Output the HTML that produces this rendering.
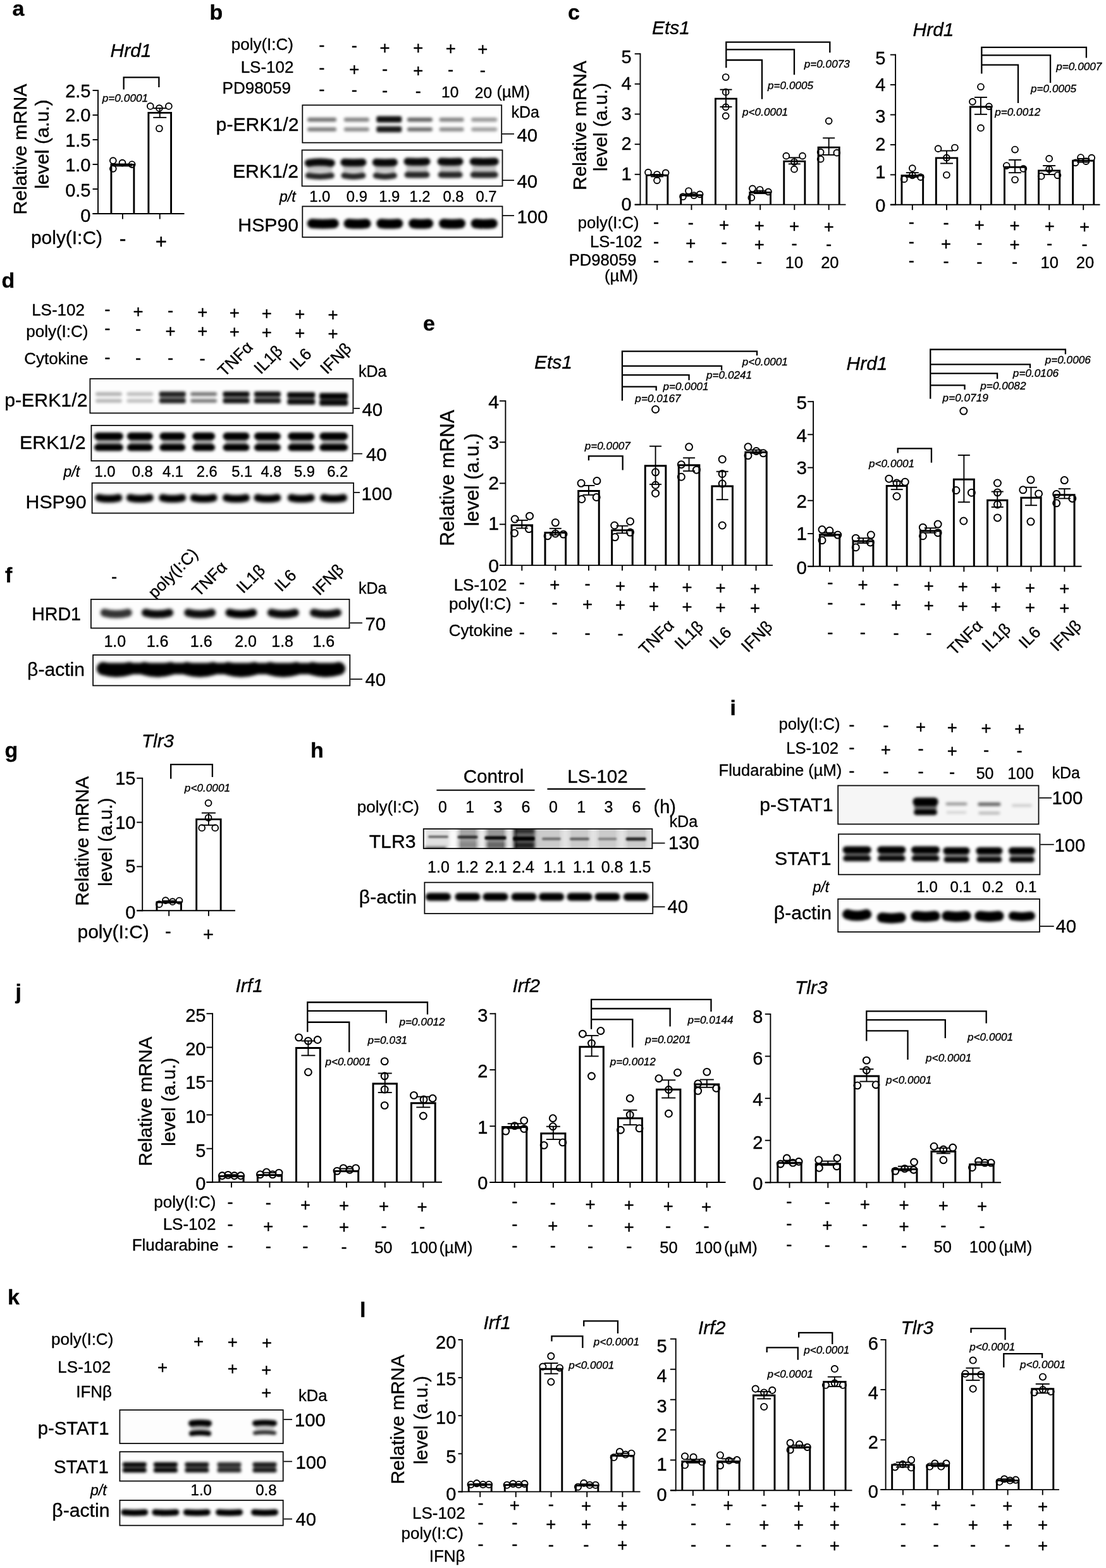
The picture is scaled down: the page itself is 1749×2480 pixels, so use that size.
<!DOCTYPE html>
<html lang="en"><head><meta charset="utf-8"><title>Figure</title>
<style>html,body{margin:0;padding:0;background:#fff}svg{display:block}text{font-family:"Liberation Sans",sans-serif;fill:#000;stroke:#000;stroke-width:0.35px;stroke-linejoin:round}</style>
</head><body>
<svg width="1749" height="2480" viewBox="0 0 1749 2480" stroke="#000" fill="none">
<rect x="0" y="0" width="1749" height="2480" fill="#fff" stroke="none"/>
<defs><clipPath id="c1"><rect x="477.4" y="165.4" width="316.7" height="61.2"/></clipPath><filter id="f1_1" filterUnits="userSpaceOnUse" x="462.4" y="150.4" width="346.7" height="91.2"><feGaussianBlur stdDeviation="2.2"/></filter><clipPath id="c2"><rect x="476.7" y="236.5" width="318.7" height="58.8"/></clipPath><filter id="f2_3" filterUnits="userSpaceOnUse" x="461.7" y="221.5" width="348.7" height="88.8"><feGaussianBlur stdDeviation="2.3"/></filter><clipPath id="c3"><rect x="477.4" y="325.5" width="318" height="50.6"/></clipPath><filter id="f3_5" filterUnits="userSpaceOnUse" x="462.4" y="310.5" width="348" height="80.6"><feGaussianBlur stdDeviation="2.2"/></filter><clipPath id="c4"><rect x="141.5" y="598.2" width="417.8" height="56.1"/></clipPath><filter id="f4_7" filterUnits="userSpaceOnUse" x="126.5" y="583.2" width="447.8" height="86.1"><feGaussianBlur stdDeviation="2.1"/></filter><clipPath id="c5"><rect x="143.5" y="672" width="415" height="57.8"/></clipPath><filter id="f5_9" filterUnits="userSpaceOnUse" x="128.5" y="657" width="445" height="87.8"><feGaussianBlur stdDeviation="2.2"/></filter><clipPath id="c6"><rect x="144.7" y="763" width="415.3" height="49.5"/></clipPath><filter id="f6_11" filterUnits="userSpaceOnUse" x="129.7" y="748" width="445.3" height="79.5"><feGaussianBlur stdDeviation="2.4"/></filter><clipPath id="c7"><rect x="143" y="947" width="410.4" height="47.4"/></clipPath><filter id="f7_13" filterUnits="userSpaceOnUse" x="128" y="932" width="440.4" height="77.4"><feGaussianBlur stdDeviation="2.4"/></filter><clipPath id="c8"><rect x="146.2" y="1035" width="408" height="50.3"/></clipPath><filter id="f8_15" filterUnits="userSpaceOnUse" x="131.2" y="1020" width="438" height="80.3"><feGaussianBlur stdDeviation="2.6"/></filter><filter id="b1" x="-50%" y="-100%" width="200%" height="300%"><feGaussianBlur stdDeviation="2.5"/></filter><clipPath id="c9"><rect x="668.9" y="1310.1" width="363.4" height="32.8"/></clipPath><filter id="f9_18" filterUnits="userSpaceOnUse" x="653.9" y="1295.1" width="393.4" height="62.8"><feGaussianBlur stdDeviation="1.8"/></filter><clipPath id="c10"><rect x="670.5" y="1394.8" width="362.7" height="51"/></clipPath><filter id="f10_20" filterUnits="userSpaceOnUse" x="655.5" y="1379.8" width="392.7" height="81"><feGaussianBlur stdDeviation="2.3"/></filter><clipPath id="c11"><rect x="1324.3" y="1241.6" width="319.1" height="62.8"/></clipPath><filter id="f11_22" filterUnits="userSpaceOnUse" x="1309.3" y="1226.6" width="349.1" height="92.8"><feGaussianBlur stdDeviation="2.2"/></filter><clipPath id="c12"><rect x="1325.1" y="1318.4" width="320.2" height="65.8"/></clipPath><filter id="f12_24" filterUnits="userSpaceOnUse" x="1310.1" y="1303.4" width="350.2" height="95.8"><feGaussianBlur stdDeviation="2.2"/></filter><clipPath id="c13"><rect x="1324.3" y="1421" width="320.6" height="53.9"/></clipPath><filter id="f13_26" filterUnits="userSpaceOnUse" x="1309.3" y="1406" width="350.6" height="83.9"><feGaussianBlur stdDeviation="2.3"/></filter><clipPath id="c14"><rect x="188.5" y="2229.2" width="260.1" height="54.7"/></clipPath><filter id="f14_28" filterUnits="userSpaceOnUse" x="173.5" y="2214.2" width="290.1" height="84.7"><feGaussianBlur stdDeviation="2"/></filter><clipPath id="c15"><rect x="188.5" y="2295.3" width="260.1" height="48.1"/></clipPath><filter id="f15_30" filterUnits="userSpaceOnUse" x="173.5" y="2280.3" width="290.1" height="78.1"><feGaussianBlur stdDeviation="2"/></filter><clipPath id="c16"><rect x="188.5" y="2372" width="260.1" height="41.6"/></clipPath><filter id="f16_32" filterUnits="userSpaceOnUse" x="173.5" y="2357" width="290.1" height="71.6"><feGaussianBlur stdDeviation="2"/></filter></defs>
<text x="19.5" y="25.2" font-size="34" font-weight="bold" stroke="none">a</text>
<text x="174.5" y="90.2" font-size="30" font-style="italic">Hrd1</text>
<path d="M175.91 338V260.42H211.87V338" fill="#fff" stroke-width="2.9" stroke-linejoin="miter"/>
<path d="M234.87 338V178.35H270.56V338" fill="#fff" stroke-width="2.9" stroke-linejoin="miter"/>
<line x1="155" y1="142.05" x2="155" y2="338.95" stroke-width="1.9"/>
<line x1="146.5" y1="338" x2="291.5" y2="338" stroke-width="1.9"/>
<line x1="146.5" y1="143" x2="155" y2="143" stroke-width="1.9"/>
<text x="143.5" y="154.01" font-size="29" text-anchor="end">2.5</text>
<line x1="146.5" y1="182" x2="155" y2="182" stroke-width="1.9"/>
<text x="143.5" y="192.21" font-size="29" text-anchor="end">2.0</text>
<line x1="146.5" y1="221" x2="155" y2="221" stroke-width="1.9"/>
<text x="143.5" y="231.51" font-size="29" text-anchor="end">1.5</text>
<line x1="146.5" y1="260" x2="155" y2="260" stroke-width="1.9"/>
<text x="143.5" y="270.81" font-size="29" text-anchor="end">1.0</text>
<line x1="146.5" y1="299" x2="155" y2="299" stroke-width="1.9"/>
<text x="143.5" y="311.01" font-size="29" text-anchor="end">0.5</text>
<line x1="146.5" y1="338" x2="155" y2="338" stroke-width="1.9"/>
<text x="143.5" y="351.21" font-size="29" text-anchor="end">0</text>
<line x1="193.89" y1="338" x2="193.89" y2="346.5" stroke-width="1.9"/>
<line x1="193.89" y1="259.51" x2="193.89" y2="262.5" stroke-width="1.9"/>
<line x1="178.89" y1="259.51" x2="208.89" y2="259.51" stroke-width="1.9"/>
<line x1="178.89" y1="262.5" x2="208.89" y2="262.5" stroke-width="1.9"/>
<circle cx="178.8" cy="254.08" r="4.9" fill="none" stroke-width="1.9"/>
<circle cx="193.48" cy="257.61" r="4.9" fill="none" stroke-width="1.9"/>
<circle cx="208.7" cy="260.05" r="4.9" fill="none" stroke-width="1.9"/>
<circle cx="178.8" cy="266.85" r="4.9" fill="none" stroke-width="1.9"/>
<line x1="252.72" y1="338" x2="252.72" y2="346.5" stroke-width="1.9"/>
<line x1="252.72" y1="171.2" x2="252.72" y2="185.87" stroke-width="1.9"/>
<line x1="242.22" y1="171.2" x2="263.22" y2="171.2" stroke-width="1.9"/>
<line x1="242.22" y1="185.87" x2="263.22" y2="185.87" stroke-width="1.9"/>
<circle cx="237.77" cy="167.93" r="4.9" fill="none" stroke-width="1.9"/>
<circle cx="251.9" cy="171.2" r="4.9" fill="none" stroke-width="1.9"/>
<circle cx="266.85" cy="167.93" r="4.9" fill="none" stroke-width="1.9"/>
<circle cx="251.9" cy="203.26" r="4.9" fill="none" stroke-width="1.9"/>
<path d="M195.65 141.58V122.28H251.36V138.04" fill="none" stroke-width="2.3" stroke-linejoin="miter"/>
<text x="161.68" y="160.6" font-size="17.3" font-style="italic">p=0.0001</text>
<text x="41.91" y="236" font-size="30.3" text-anchor="middle" transform="rotate(-90 41.91 236)">Relative mRNA</text>
<text x="77.41" y="228" font-size="30.3" text-anchor="middle" transform="rotate(-90 77.41 228)">level (a.u.)</text>
<text x="49" y="386" font-size="29.9">poly(I:C)</text>
<text x="194.02" y="388.15" font-size="32" text-anchor="middle">-</text>
<text x="254.89" y="392.66" font-size="31" text-anchor="middle">+</text>
<text x="331.5" y="30.8" font-size="34" font-weight="bold" stroke="none">b</text>
<text x="464" y="78.6" font-size="26" text-anchor="end">poly(I:C)</text>
<text x="464.5" y="115" font-size="26" text-anchor="end">LS-102</text>
<text x="460" y="148.3" font-size="26" text-anchor="end">PD98059</text>
<text x="508.9" y="80.23" font-size="27.5" text-anchor="middle">-</text>
<text x="560.4" y="81.09" font-size="27.5" text-anchor="middle">-</text>
<text x="608.6" y="84.58" font-size="27.5" text-anchor="middle">+</text>
<text x="661.3" y="85.44" font-size="27.5" text-anchor="middle">+</text>
<text x="712.7" y="86.3" font-size="27.5" text-anchor="middle">+</text>
<text x="763.3" y="87.16" font-size="27.5" text-anchor="middle">+</text>
<text x="508.9" y="115.63" font-size="27.5" text-anchor="middle">-</text>
<text x="560.4" y="119.2" font-size="27.5" text-anchor="middle">+</text>
<text x="608.6" y="117.51" font-size="27.5" text-anchor="middle">-</text>
<text x="661.3" y="121.08" font-size="27.5" text-anchor="middle">+</text>
<text x="712.7" y="119.39" font-size="27.5" text-anchor="middle">-</text>
<text x="763.3" y="120.33" font-size="27.5" text-anchor="middle">-</text>
<text x="508.9" y="150.03" font-size="27.5" text-anchor="middle">-</text>
<text x="560.4" y="151.03" font-size="27.5" text-anchor="middle">-</text>
<text x="608.6" y="152.03" font-size="27.5" text-anchor="middle">-</text>
<text x="661.3" y="153.03" font-size="27.5" text-anchor="middle">-</text>
<text x="711.7" y="154.2" font-size="24.5" text-anchor="middle">10</text>
<text x="764.5" y="154.6" font-size="24.5" text-anchor="middle">20</text>
<text x="785.5" y="154.3" font-size="25.2">(µM)</text>
<rect x="477.4" y="165.4" width="316.7" height="61.2" fill="#fdfdfd" stroke="none"/>
<g clip-path="url(#c1)" stroke="none">
<g filter="url(#f1_1)">
<rect x="486.04" y="186.05" width="46" height="6.5" rx="3" ry="3" fill="#000" opacity="0.55"/>
<rect x="486.04" y="201.5" width="46" height="6.2" rx="3" ry="3" fill="#000" opacity="0.52"/>
<rect x="543.89" y="186.05" width="40" height="6.5" rx="3" ry="3" fill="#000" opacity="0.48"/>
<rect x="543.89" y="201.5" width="40" height="6.2" rx="3" ry="3" fill="#000" opacity="0.46"/>
<rect x="595.27" y="183.8" width="40" height="10" rx="3" ry="3" fill="#000" opacity="0.95"/>
<rect x="595.27" y="199.85" width="40" height="9.5" rx="3" ry="3" fill="#000" opacity="0.9"/>
<rect x="643.95" y="186.05" width="40" height="6.5" rx="3" ry="3" fill="#000" opacity="0.62"/>
<rect x="643.95" y="201.5" width="40" height="6.2" rx="3" ry="3" fill="#000" opacity="0.59"/>
<rect x="694.6" y="186.05" width="39" height="6.5" rx="3" ry="3" fill="#000" opacity="0.48"/>
<rect x="694.6" y="201.5" width="39" height="6.2" rx="3" ry="3" fill="#000" opacity="0.46"/>
<rect x="745.24" y="186.05" width="41" height="6.5" rx="3" ry="3" fill="#000" opacity="0.4"/>
<rect x="745.24" y="201.5" width="41" height="6.2" rx="3" ry="3" fill="#000" opacity="0.38"/>
</g>
</g>
<rect x="478.3" y="166.3" width="314.9" height="59.4" fill="none" stroke="#0a0a0a" stroke-width="1.8"/>
<rect x="476.7" y="236.5" width="318.7" height="58.8" fill="#fdfdfd" stroke="none"/>
<g clip-path="url(#c2)" stroke="none">
<g filter="url(#f2_3)">
<path d="M487.82 257.85Q505.82 254.85 523.82 257.85" fill="none" stroke="#000" stroke-width="12" stroke-linecap="round" opacity="0.97"/>
<path d="M487.57 277.65Q505.82 280.65 524.07 277.65" fill="none" stroke="#000" stroke-width="9.5" stroke-linecap="round" opacity="0.85"/>
<rect x="485.82" y="262" width="40" height="10" rx="3" ry="3" fill="#000" opacity="0.22"/>
<path d="M544.44 256.85Q558.94 257.85 573.44 256.85" fill="none" stroke="#000" stroke-width="12" stroke-linecap="round" opacity="0.97"/>
<path d="M544.19 277.65Q558.94 280.65 573.69 277.65" fill="none" stroke="#000" stroke-width="9.5" stroke-linecap="round" opacity="0.85"/>
<rect x="542.44" y="262" width="33" height="10" rx="3" ry="3" fill="#000" opacity="0.22"/>
<path d="M594.85 256.85Q608.85 257.85 622.85 256.85" fill="none" stroke="#000" stroke-width="12" stroke-linecap="round" opacity="0.97"/>
<path d="M594.6 277.65Q608.85 280.65 623.1 277.65" fill="none" stroke="#000" stroke-width="9.5" stroke-linecap="round" opacity="0.85"/>
<rect x="592.85" y="262" width="32" height="10" rx="3" ry="3" fill="#000" opacity="0.22"/>
<path d="M644.5 255.45Q659.5 256.45 674.5 255.45" fill="none" stroke="#000" stroke-width="12" stroke-linecap="round" opacity="0.97"/>
<path d="M644.25 276.45Q659.5 277.05 674.75 276.45" fill="none" stroke="#000" stroke-width="9.5" stroke-linecap="round" opacity="0.85"/>
<rect x="642.5" y="262" width="34" height="10" rx="3" ry="3" fill="#000" opacity="0.22"/>
<path d="M697.62 255.45Q712.12 256.45 726.62 255.45" fill="none" stroke="#000" stroke-width="12" stroke-linecap="round" opacity="0.97"/>
<path d="M697.37 276.45Q712.12 277.05 726.87 276.45" fill="none" stroke="#000" stroke-width="9.5" stroke-linecap="round" opacity="0.85"/>
<rect x="695.62" y="262" width="33" height="10" rx="3" ry="3" fill="#000" opacity="0.22"/>
<path d="M748.74 255.45Q765.74 256.45 782.74 255.45" fill="none" stroke="#000" stroke-width="12" stroke-linecap="round" opacity="0.97"/>
<path d="M748.49 276.45Q765.74 277.05 782.99 276.45" fill="none" stroke="#000" stroke-width="9.5" stroke-linecap="round" opacity="0.85"/>
<rect x="746.74" y="262" width="38" height="10" rx="3" ry="3" fill="#000" opacity="0.22"/>
</g>
</g>
<rect x="477.6" y="237.4" width="316.9" height="57" fill="none" stroke="#0a0a0a" stroke-width="1.8"/>
<rect x="477.4" y="325.5" width="318" height="50.6" fill="#fdfdfd" stroke="none"/>
<g clip-path="url(#c3)" stroke="none">
<g filter="url(#f3_5)">
<path d="M493.27 353.5Q510.77 355.1 528.27 353.5" fill="none" stroke="#000" stroke-width="15" stroke-linecap="round" opacity="1"/>
<path d="M551.12 353.5Q565.12 355.1 579.12 353.5" fill="none" stroke="#000" stroke-width="15" stroke-linecap="round" opacity="1"/>
<path d="M602.76 353.5Q616.26 355.1 629.76 353.5" fill="none" stroke="#000" stroke-width="15" stroke-linecap="round" opacity="1"/>
<path d="M653.68 353.5Q665.68 355.1 677.68 353.5" fill="none" stroke="#000" stroke-width="15" stroke-linecap="round" opacity="1"/>
<path d="M701.59 353.5Q715.09 355.1 728.59 353.5" fill="none" stroke="#000" stroke-width="15" stroke-linecap="round" opacity="1"/>
<path d="M752.24 353.5Q765.74 355.1 779.24 353.5" fill="none" stroke="#000" stroke-width="15" stroke-linecap="round" opacity="1"/>
</g>
</g>
<rect x="478.3" y="326.4" width="316.2" height="48.8" fill="none" stroke="#0a0a0a" stroke-width="1.8"/>
<text x="472.5" y="207.3" font-size="30.2" text-anchor="end">p-ERK1/2</text>
<text x="472" y="281" font-size="30.2" text-anchor="end">ERK1/2</text>
<text x="472" y="365.7" font-size="30.2" text-anchor="end">HSP90</text>
<text x="808.5" y="185.9" font-size="25">kDa</text>
<line x1="794" y1="211.8" x2="813" y2="211.8" stroke-width="1.7"/>
<text x="817.5" y="224.3" font-size="29.3">40</text>
<line x1="795" y1="285.2" x2="813" y2="285.2" stroke-width="1.7"/>
<text x="817.5" y="297.3" font-size="29.3">40</text>
<line x1="795" y1="341" x2="813" y2="341" stroke-width="1.7"/>
<text x="817.5" y="352.8" font-size="29.3">100</text>
<text x="442" y="319.3" font-size="23" font-style="italic">p/t</text>
<text x="505.8" y="319.3" font-size="23.8" text-anchor="middle">1.0</text>
<text x="564.4" y="319.3" font-size="23.8" text-anchor="middle">0.9</text>
<text x="615.8" y="319.3" font-size="23.8" text-anchor="middle">1.9</text>
<text x="664" y="319.3" font-size="23.8" text-anchor="middle">1.2</text>
<text x="717" y="319.3" font-size="23.8" text-anchor="middle">0.8</text>
<text x="769" y="319.3" font-size="23.8" text-anchor="middle">0.7</text>
<text x="898" y="30.5" font-size="34" font-weight="bold" stroke="none">c</text>
<text x="1031" y="54" font-size="30" font-style="italic">Ets1</text>
<path d="M1022.45 323.6V277.12H1055.88V323.6" fill="#fff" stroke-width="2.9" stroke-linejoin="miter"/>
<path d="M1076.78 323.6V308.78H1110.22V323.6" fill="#fff" stroke-width="2.9" stroke-linejoin="miter"/>
<path d="M1131.45 323.6V156.12H1164.55V323.6" fill="#fff" stroke-width="2.9" stroke-linejoin="miter"/>
<path d="M1185.78 323.6V304.45H1218.55V323.6" fill="#fff" stroke-width="2.9" stroke-linejoin="miter"/>
<path d="M1239.78 323.6V255.12H1272.88V323.6" fill="#fff" stroke-width="2.9" stroke-linejoin="miter"/>
<path d="M1294.12 323.6V233.12H1327.22V323.6" fill="#fff" stroke-width="2.9" stroke-linejoin="miter"/>
<line x1="1012.5" y1="84.25" x2="1012.5" y2="324.55" stroke-width="1.9"/>
<line x1="1003.7" y1="323.6" x2="1337.5" y2="323.6" stroke-width="1.9"/>
<line x1="1003.7" y1="85.2" x2="1012.5" y2="85.2" stroke-width="1.9"/>
<text x="998.7" y="99.71" font-size="29" text-anchor="end">5</text>
<line x1="1003.7" y1="132.8" x2="1012.5" y2="132.8" stroke-width="1.9"/>
<text x="998.7" y="141.71" font-size="29" text-anchor="end">4</text>
<line x1="1003.7" y1="180.5" x2="1012.5" y2="180.5" stroke-width="1.9"/>
<text x="998.7" y="190.11" font-size="29" text-anchor="end">3</text>
<line x1="1003.7" y1="228.2" x2="1012.5" y2="228.2" stroke-width="1.9"/>
<text x="998.7" y="236.91" font-size="29" text-anchor="end">2</text>
<line x1="1003.7" y1="275.8" x2="1012.5" y2="275.8" stroke-width="1.9"/>
<text x="998.7" y="285.31" font-size="29" text-anchor="end">1</text>
<line x1="1003.7" y1="323.6" x2="1012.5" y2="323.6" stroke-width="1.9"/>
<text x="998.7" y="333.21" font-size="29" text-anchor="end">0</text>
<line x1="1039.17" y1="323.6" x2="1039.17" y2="332.1" stroke-width="1.9"/>
<line x1="1039.17" y1="276" x2="1039.17" y2="279.33" stroke-width="1.9"/>
<line x1="1029.17" y1="276" x2="1049.17" y2="276" stroke-width="1.9"/>
<line x1="1029.17" y1="279.33" x2="1049.17" y2="279.33" stroke-width="1.9"/>
<circle cx="1025" cy="272.67" r="4.9" fill="none" stroke-width="1.9"/>
<circle cx="1039" cy="276" r="4.9" fill="none" stroke-width="1.9"/>
<circle cx="1052.67" cy="273.33" r="4.9" fill="none" stroke-width="1.9"/>
<circle cx="1039" cy="285.33" r="4.9" fill="none" stroke-width="1.9"/>
<line x1="1093.5" y1="323.6" x2="1093.5" y2="332.1" stroke-width="1.9"/>
<line x1="1093.5" y1="306.67" x2="1093.5" y2="310" stroke-width="1.9"/>
<line x1="1083.5" y1="306.67" x2="1103.5" y2="306.67" stroke-width="1.9"/>
<line x1="1083.5" y1="310" x2="1103.5" y2="310" stroke-width="1.9"/>
<circle cx="1080" cy="311" r="4.9" fill="none" stroke-width="1.9"/>
<circle cx="1089" cy="302" r="4.9" fill="none" stroke-width="1.9"/>
<circle cx="1097.33" cy="309" r="4.9" fill="none" stroke-width="1.9"/>
<circle cx="1106.67" cy="307.33" r="4.9" fill="none" stroke-width="1.9"/>
<line x1="1148" y1="323.6" x2="1148" y2="332.1" stroke-width="1.9"/>
<line x1="1148" y1="141.67" x2="1148" y2="169" stroke-width="1.9"/>
<line x1="1138.5" y1="141.67" x2="1157.5" y2="141.67" stroke-width="1.9"/>
<line x1="1138.5" y1="169" x2="1157.5" y2="169" stroke-width="1.9"/>
<circle cx="1147.67" cy="122" r="4.9" fill="none" stroke-width="1.9"/>
<circle cx="1147.67" cy="145.67" r="4.9" fill="none" stroke-width="1.9"/>
<circle cx="1147.67" cy="169.33" r="4.9" fill="none" stroke-width="1.9"/>
<circle cx="1147.67" cy="183.33" r="4.9" fill="none" stroke-width="1.9"/>
<line x1="1202.17" y1="323.6" x2="1202.17" y2="332.1" stroke-width="1.9"/>
<line x1="1202.17" y1="301.67" x2="1202.17" y2="306" stroke-width="1.9"/>
<line x1="1192.17" y1="301.67" x2="1212.17" y2="301.67" stroke-width="1.9"/>
<line x1="1192.17" y1="306" x2="1212.17" y2="306" stroke-width="1.9"/>
<circle cx="1188.33" cy="312.67" r="4.9" fill="none" stroke-width="1.9"/>
<circle cx="1190" cy="298.33" r="4.9" fill="none" stroke-width="1.9"/>
<circle cx="1201.67" cy="300" r="4.9" fill="none" stroke-width="1.9"/>
<circle cx="1215" cy="303.33" r="4.9" fill="none" stroke-width="1.9"/>
<line x1="1256.33" y1="323.6" x2="1256.33" y2="332.1" stroke-width="1.9"/>
<line x1="1256.33" y1="249.33" x2="1256.33" y2="259.33" stroke-width="1.9"/>
<line x1="1246.83" y1="249.33" x2="1265.83" y2="249.33" stroke-width="1.9"/>
<line x1="1246.83" y1="259.33" x2="1265.83" y2="259.33" stroke-width="1.9"/>
<circle cx="1243.33" cy="246.67" r="4.9" fill="none" stroke-width="1.9"/>
<circle cx="1256" cy="256" r="4.9" fill="none" stroke-width="1.9"/>
<circle cx="1269" cy="246.67" r="4.9" fill="none" stroke-width="1.9"/>
<circle cx="1256" cy="267.67" r="4.9" fill="none" stroke-width="1.9"/>
<line x1="1310.67" y1="323.6" x2="1310.67" y2="332.1" stroke-width="1.9"/>
<line x1="1310.67" y1="218.33" x2="1310.67" y2="245" stroke-width="1.9"/>
<line x1="1301.17" y1="218.33" x2="1320.17" y2="218.33" stroke-width="1.9"/>
<line x1="1301.17" y1="245" x2="1320.17" y2="245" stroke-width="1.9"/>
<circle cx="1310.67" cy="191.33" r="4.9" fill="none" stroke-width="1.9"/>
<circle cx="1297.67" cy="240.67" r="4.9" fill="none" stroke-width="1.9"/>
<circle cx="1323.33" cy="241.67" r="4.9" fill="none" stroke-width="1.9"/>
<circle cx="1297.67" cy="251.67" r="4.9" fill="none" stroke-width="1.9"/>
<path d="M1148.33 107.33V66.67H1312.33V83.33M1148.33 78.33H1256V118.33M1148.33 95H1205V156.67" fill="none" stroke-width="2.3" stroke-linejoin="miter"/>
<text x="1271.67" y="106.67" font-size="17.2" font-style="italic">p=0.0073</text>
<text x="1214" y="140.67" font-size="17.2" font-style="italic">p=0.0005</text>
<text x="1174" y="182.67" font-size="17.2" font-style="italic">p&lt;0.0001</text>
<text x="926.8" y="198.5" font-size="30" text-anchor="middle" transform="rotate(-90 926.8 198.5)">Relative mRNA</text>
<text x="960.3" y="201" font-size="30" text-anchor="middle" transform="rotate(-90 960.3 201)">level (a.u.)</text>
<text x="1010.5" y="361" font-size="25.6" text-anchor="end">poly(I:C)</text>
<text x="1015.5" y="391" font-size="25.6" text-anchor="end">LS-102</text>
<text x="1006.5" y="420" font-size="25.6" text-anchor="end">PD98059</text>
<text x="1009" y="445" font-size="25.6" text-anchor="end">(µM)</text>
<text x="1037.67" y="360" font-size="27.5" text-anchor="middle">-</text>
<text x="1092.33" y="361" font-size="27.5" text-anchor="middle">-</text>
<text x="1145" y="364.62" font-size="27.5" text-anchor="middle">+</text>
<text x="1200.67" y="365.62" font-size="27.5" text-anchor="middle">+</text>
<text x="1256" y="366.62" font-size="27.5" text-anchor="middle">+</text>
<text x="1310.67" y="367.62" font-size="27.5" text-anchor="middle">+</text>
<text x="1037.67" y="390.66" font-size="27.5" text-anchor="middle">-</text>
<text x="1092.33" y="394.09" font-size="27.5" text-anchor="middle">+</text>
<text x="1145" y="392.26" font-size="27.5" text-anchor="middle">-</text>
<text x="1200.67" y="395.69" font-size="27.5" text-anchor="middle">+</text>
<text x="1256" y="393.86" font-size="27.5" text-anchor="middle">-</text>
<text x="1310.67" y="394.66" font-size="27.5" text-anchor="middle">-</text>
<text x="1037.67" y="420.66" font-size="27.5" text-anchor="middle">-</text>
<text x="1092.33" y="421.33" font-size="27.5" text-anchor="middle">-</text>
<text x="1145" y="422" font-size="27.5" text-anchor="middle">-</text>
<text x="1200.67" y="422.66" font-size="27.5" text-anchor="middle">-</text>
<text x="1256" y="424" font-size="25.5" text-anchor="middle">10</text>
<text x="1312.33" y="424" font-size="25.5" text-anchor="middle">20</text>
<text x="1443.5" y="56.8" font-size="30" font-style="italic">Hrd1</text>
<path d="M1425.96 323.7V277.66H1459.67V323.7" fill="#fff" stroke-width="2.9" stroke-linejoin="miter"/>
<path d="M1480.32 323.7V249.92H1513.75V323.7" fill="#fff" stroke-width="2.9" stroke-linejoin="miter"/>
<path d="M1534.4 323.7V168.95H1567.55V323.7" fill="#fff" stroke-width="2.9" stroke-linejoin="miter"/>
<path d="M1588.47 323.7V264.35H1621.62V323.7" fill="#fff" stroke-width="2.9" stroke-linejoin="miter"/>
<path d="M1642.55 323.7V269.89H1675.7V323.7" fill="#fff" stroke-width="2.9" stroke-linejoin="miter"/>
<path d="M1696.62 323.7V254.08H1729.78V323.7" fill="#fff" stroke-width="2.9" stroke-linejoin="miter"/>
<line x1="1416.1" y1="85.65" x2="1416.1" y2="324.65" stroke-width="1.9"/>
<line x1="1407.9" y1="323.7" x2="1739.5" y2="323.7" stroke-width="1.9"/>
<line x1="1407.9" y1="86.6" x2="1416.1" y2="86.6" stroke-width="1.9"/>
<text x="1400.3" y="102.21" font-size="29" text-anchor="end">5</text>
<line x1="1407.9" y1="134.1" x2="1416.1" y2="134.1" stroke-width="1.9"/>
<text x="1400.3" y="144.31" font-size="29" text-anchor="end">4</text>
<line x1="1407.9" y1="181.5" x2="1416.1" y2="181.5" stroke-width="1.9"/>
<text x="1400.3" y="194.11" font-size="29" text-anchor="end">3</text>
<line x1="1407.9" y1="228.9" x2="1416.1" y2="228.9" stroke-width="1.9"/>
<text x="1400.3" y="237.81" font-size="29" text-anchor="end">2</text>
<line x1="1407.9" y1="276.4" x2="1416.1" y2="276.4" stroke-width="1.9"/>
<text x="1400.3" y="281.81" font-size="29" text-anchor="end">1</text>
<line x1="1407.9" y1="323.7" x2="1416.1" y2="323.7" stroke-width="1.9"/>
<text x="1400.3" y="335.11" font-size="29" text-anchor="end">0</text>
<line x1="1442.82" y1="323.7" x2="1442.82" y2="332.2" stroke-width="1.9"/>
<line x1="1442.82" y1="273.16" x2="1442.82" y2="280.09" stroke-width="1.9"/>
<line x1="1432.82" y1="273.16" x2="1452.82" y2="273.16" stroke-width="1.9"/>
<line x1="1432.82" y1="280.09" x2="1452.82" y2="280.09" stroke-width="1.9"/>
<circle cx="1442.82" cy="266.22" r="4.9" fill="none" stroke-width="1.9"/>
<circle cx="1429.78" cy="283.42" r="4.9" fill="none" stroke-width="1.9"/>
<circle cx="1442.82" cy="277.32" r="4.9" fill="none" stroke-width="1.9"/>
<circle cx="1455.85" cy="280.09" r="4.9" fill="none" stroke-width="1.9"/>
<line x1="1497.03" y1="323.7" x2="1497.03" y2="332.2" stroke-width="1.9"/>
<line x1="1497.03" y1="238.49" x2="1497.03" y2="258.46" stroke-width="1.9"/>
<line x1="1487.03" y1="238.49" x2="1507.03" y2="238.49" stroke-width="1.9"/>
<line x1="1487.03" y1="258.46" x2="1507.03" y2="258.46" stroke-width="1.9"/>
<circle cx="1483.58" cy="235.16" r="4.9" fill="none" stroke-width="1.9"/>
<circle cx="1509.93" cy="233.5" r="4.9" fill="none" stroke-width="1.9"/>
<circle cx="1496.89" cy="249.58" r="4.9" fill="none" stroke-width="1.9"/>
<circle cx="1496.89" cy="276.76" r="4.9" fill="none" stroke-width="1.9"/>
<line x1="1550.97" y1="323.7" x2="1550.97" y2="332.2" stroke-width="1.9"/>
<line x1="1550.97" y1="153.91" x2="1550.97" y2="180.81" stroke-width="1.9"/>
<line x1="1540.97" y1="153.91" x2="1560.97" y2="153.91" stroke-width="1.9"/>
<line x1="1540.97" y1="180.81" x2="1560.97" y2="180.81" stroke-width="1.9"/>
<circle cx="1550.97" cy="137.27" r="4.9" fill="none" stroke-width="1.9"/>
<circle cx="1537.94" cy="160.84" r="4.9" fill="none" stroke-width="1.9"/>
<circle cx="1564" cy="168.33" r="4.9" fill="none" stroke-width="1.9"/>
<circle cx="1550.97" cy="202.44" r="4.9" fill="none" stroke-width="1.9"/>
<line x1="1605.05" y1="323.7" x2="1605.05" y2="332.2" stroke-width="1.9"/>
<line x1="1605.05" y1="252.91" x2="1605.05" y2="273.16" stroke-width="1.9"/>
<line x1="1595.05" y1="252.91" x2="1615.05" y2="252.91" stroke-width="1.9"/>
<line x1="1595.05" y1="273.16" x2="1615.05" y2="273.16" stroke-width="1.9"/>
<circle cx="1605.05" cy="236.55" r="4.9" fill="none" stroke-width="1.9"/>
<circle cx="1591.74" cy="262.06" r="4.9" fill="none" stroke-width="1.9"/>
<circle cx="1618.36" cy="266.78" r="4.9" fill="none" stroke-width="1.9"/>
<circle cx="1605.05" cy="284.25" r="4.9" fill="none" stroke-width="1.9"/>
<line x1="1659.12" y1="323.7" x2="1659.12" y2="332.2" stroke-width="1.9"/>
<line x1="1659.12" y1="262.06" x2="1659.12" y2="275.93" stroke-width="1.9"/>
<line x1="1649.12" y1="262.06" x2="1669.12" y2="262.06" stroke-width="1.9"/>
<line x1="1649.12" y1="275.93" x2="1669.12" y2="275.93" stroke-width="1.9"/>
<circle cx="1659.12" cy="250.97" r="4.9" fill="none" stroke-width="1.9"/>
<circle cx="1659.12" cy="267.61" r="4.9" fill="none" stroke-width="1.9"/>
<circle cx="1646.64" cy="278.7" r="4.9" fill="none" stroke-width="1.9"/>
<circle cx="1672.43" cy="277.32" r="4.9" fill="none" stroke-width="1.9"/>
<line x1="1713.2" y1="323.7" x2="1713.2" y2="332.2" stroke-width="1.9"/>
<line x1="1713.2" y1="250.97" x2="1713.2" y2="256.52" stroke-width="1.9"/>
<line x1="1703.2" y1="250.97" x2="1723.2" y2="250.97" stroke-width="1.9"/>
<line x1="1703.2" y1="256.52" x2="1723.2" y2="256.52" stroke-width="1.9"/>
<circle cx="1700.72" cy="257.35" r="4.9" fill="none" stroke-width="1.9"/>
<circle cx="1709.04" cy="249.03" r="4.9" fill="none" stroke-width="1.9"/>
<circle cx="1717.36" cy="255.13" r="4.9" fill="none" stroke-width="1.9"/>
<circle cx="1726.23" cy="249.58" r="4.9" fill="none" stroke-width="1.9"/>
<path d="M1552.36 116.47V74.88H1717.91V91.51M1552.36 87.35H1661.06V130.89M1552.36 102.61H1610.04V163.06" fill="none" stroke-width="2.3" stroke-linejoin="miter"/>
<text x="1670.22" y="110.93" font-size="17.2" font-style="italic">p=0.0007</text>
<text x="1630.01" y="146.42" font-size="17.2" font-style="italic">p=0.0005</text>
<text x="1573.16" y="183.03" font-size="17.2" font-style="italic">p=0.0012</text>
<text x="1441.43" y="360.07" font-size="27.5" text-anchor="middle">-</text>
<text x="1496.06" y="361.07" font-size="27.5" text-anchor="middle">-</text>
<text x="1548.75" y="364.7" font-size="27.5" text-anchor="middle">+</text>
<text x="1604.49" y="365.7" font-size="27.5" text-anchor="middle">+</text>
<text x="1659.68" y="366.7" font-size="27.5" text-anchor="middle">+</text>
<text x="1715.14" y="367.69" font-size="27.5" text-anchor="middle">+</text>
<text x="1441.43" y="391.41" font-size="27.5" text-anchor="middle">-</text>
<text x="1496.06" y="394.76" font-size="27.5" text-anchor="middle">+</text>
<text x="1548.75" y="392.85" font-size="27.5" text-anchor="middle">-</text>
<text x="1604.49" y="396.2" font-size="27.5" text-anchor="middle">+</text>
<text x="1659.68" y="394.29" font-size="27.5" text-anchor="middle">-</text>
<text x="1715.14" y="395.02" font-size="27.5" text-anchor="middle">-</text>
<text x="1441.43" y="421.36" font-size="27.5" text-anchor="middle">-</text>
<text x="1496.06" y="422.01" font-size="27.5" text-anchor="middle">-</text>
<text x="1548.75" y="422.66" font-size="27.5" text-anchor="middle">-</text>
<text x="1604.49" y="423.3" font-size="27.5" text-anchor="middle">-</text>
<text x="1659.68" y="424.29" font-size="25.5" text-anchor="middle">10</text>
<text x="1715.97" y="424.29" font-size="25.5" text-anchor="middle">20</text>
<text x="2.5" y="454.6" font-size="34" font-weight="bold" stroke="none">d</text>
<text x="134" y="499.4" font-size="26" text-anchor="end">LS-102</text>
<text x="139.5" y="533" font-size="26" text-anchor="end">poly(I:C)</text>
<text x="139.5" y="575.7" font-size="26" text-anchor="end">Cytokine</text>
<text x="169.96" y="498.04" font-size="27.5" text-anchor="middle">-</text>
<text x="218.58" y="501.57" font-size="27.5" text-anchor="middle">+</text>
<text x="269.57" y="499.85" font-size="27.5" text-anchor="middle">-</text>
<text x="320.16" y="503.38" font-size="27.5" text-anchor="middle">+</text>
<text x="370.75" y="504.28" font-size="27.5" text-anchor="middle">+</text>
<text x="421.74" y="505.19" font-size="27.5" text-anchor="middle">+</text>
<text x="474.31" y="506.09" font-size="27.5" text-anchor="middle">+</text>
<text x="526.48" y="506.99" font-size="27.5" text-anchor="middle">+</text>
<text x="169.96" y="528.47" font-size="27.5" text-anchor="middle">-</text>
<text x="218.58" y="529.27" font-size="27.5" text-anchor="middle">-</text>
<text x="269.57" y="532.68" font-size="27.5" text-anchor="middle">+</text>
<text x="320.16" y="533.48" font-size="27.5" text-anchor="middle">+</text>
<text x="370.75" y="534.27" font-size="27.5" text-anchor="middle">+</text>
<text x="421.74" y="535.06" font-size="27.5" text-anchor="middle">+</text>
<text x="474.31" y="535.85" font-size="27.5" text-anchor="middle">+</text>
<text x="526.48" y="536.64" font-size="27.5" text-anchor="middle">+</text>
<text x="169.96" y="574.32" font-size="27.5" text-anchor="middle">-</text>
<text x="218.58" y="574.72" font-size="27.5" text-anchor="middle">-</text>
<text x="269.57" y="575.12" font-size="27.5" text-anchor="middle">-</text>
<text x="320.16" y="575.51" font-size="27.5" text-anchor="middle">-</text>
<text x="354.94" y="597.04" font-size="26" transform="rotate(-45 354.94 597.04)">TNFα</text>
<text x="412.25" y="593.08" font-size="26" transform="rotate(-45 412.25 593.08)">IL1β</text>
<text x="468.77" y="587.15" font-size="26" transform="rotate(-45 468.77 587.15)">IL6</text>
<text x="517" y="593.08" font-size="26" transform="rotate(-45 517 593.08)">IFNβ</text>
<text x="567" y="596.2" font-size="25">kDa</text>
<rect x="141.5" y="598.2" width="417.8" height="56.1" fill="#fdfdfd" stroke="none"/>
<g clip-path="url(#c4)" stroke="none">
<g filter="url(#f4_7)">
<rect x="150.94" y="620.3" width="42" height="6" rx="3" ry="3" fill="#000" opacity="0.3"/>
<rect x="150.94" y="631" width="42" height="6" rx="3" ry="3" fill="#000" opacity="0.28"/>
<rect x="200.34" y="620.3" width="42" height="6" rx="3" ry="3" fill="#000" opacity="0.25"/>
<rect x="200.34" y="631" width="42" height="6" rx="3" ry="3" fill="#000" opacity="0.24"/>
<rect x="251.73" y="619.2" width="42" height="8.2" rx="3" ry="3" fill="#000" opacity="0.85"/>
<rect x="251.73" y="629.9" width="42" height="8.2" rx="3" ry="3" fill="#000" opacity="0.81"/>
<rect x="252.73" y="621.7" width="40" height="14" rx="3" ry="3" fill="#000" opacity="0.3"/>
<rect x="301.13" y="620.3" width="42" height="6" rx="3" ry="3" fill="#000" opacity="0.55"/>
<rect x="301.13" y="631" width="42" height="6" rx="3" ry="3" fill="#000" opacity="0.52"/>
<rect x="352.52" y="619.2" width="42" height="8.2" rx="3" ry="3" fill="#000" opacity="0.95"/>
<rect x="352.52" y="629.9" width="42" height="8.2" rx="3" ry="3" fill="#000" opacity="0.9"/>
<rect x="353.52" y="621.7" width="40" height="14" rx="3" ry="3" fill="#000" opacity="0.3"/>
<rect x="401.92" y="619.2" width="42" height="8.2" rx="3" ry="3" fill="#000" opacity="0.92"/>
<rect x="401.92" y="629.9" width="42" height="8.2" rx="3" ry="3" fill="#000" opacity="0.87"/>
<rect x="402.92" y="621.7" width="40" height="14" rx="3" ry="3" fill="#000" opacity="0.3"/>
<rect x="454.28" y="620.3" width="44" height="9" rx="3" ry="3" fill="#000" opacity="0.97"/>
<rect x="454.28" y="631" width="44" height="9" rx="3" ry="3" fill="#000" opacity="0.92"/>
<rect x="455.28" y="622.8" width="42" height="14.8" rx="3" ry="3" fill="#000" opacity="0.3"/>
<rect x="505.17" y="621.45" width="45" height="9.7" rx="3" ry="3" fill="#000" opacity="1"/>
<rect x="505.17" y="632.15" width="45" height="9.7" rx="3" ry="3" fill="#000" opacity="0.95"/>
<rect x="506.17" y="623.95" width="43" height="15.5" rx="3" ry="3" fill="#000" opacity="0.3"/>
</g>
</g>
<rect x="142.4" y="599.1" width="416" height="54.3" fill="none" stroke="#0a0a0a" stroke-width="1.8"/>
<rect x="143.5" y="672" width="415" height="57.8" fill="#fdfdfd" stroke="none"/>
<g clip-path="url(#c5)" stroke="none">
<g filter="url(#f5_9)">
<rect x="148.94" y="684" width="46" height="12" rx="6" ry="6" fill="#000" opacity="1"/>
<rect x="148.94" y="702.2" width="46" height="11" rx="5.5" ry="5.5" fill="#000" opacity="1"/>
<rect x="152.94" y="695" width="38" height="8" rx="3" ry="3" fill="#000" opacity="0.3"/>
<rect x="200.84" y="684" width="41" height="12" rx="6" ry="6" fill="#000" opacity="1"/>
<rect x="200.84" y="702.2" width="41" height="11" rx="5.5" ry="5.5" fill="#000" opacity="1"/>
<rect x="204.84" y="695" width="33" height="8" rx="3" ry="3" fill="#000" opacity="0.3"/>
<rect x="252.23" y="684" width="41" height="12" rx="6" ry="6" fill="#000" opacity="1"/>
<rect x="252.23" y="702.2" width="41" height="11" rx="5.5" ry="5.5" fill="#000" opacity="1"/>
<rect x="256.23" y="695" width="33" height="8" rx="3" ry="3" fill="#000" opacity="0.3"/>
<rect x="304.13" y="684" width="36" height="12" rx="6" ry="6" fill="#000" opacity="1"/>
<rect x="304.13" y="702.2" width="36" height="11" rx="5.5" ry="5.5" fill="#000" opacity="1"/>
<rect x="308.13" y="695" width="28" height="8" rx="3" ry="3" fill="#000" opacity="0.3"/>
<rect x="352.52" y="684" width="42" height="12" rx="6" ry="6" fill="#000" opacity="1"/>
<rect x="352.52" y="702.2" width="42" height="11" rx="5.5" ry="5.5" fill="#000" opacity="1"/>
<rect x="356.52" y="695" width="34" height="8" rx="3" ry="3" fill="#000" opacity="0.3"/>
<rect x="401.92" y="684" width="42" height="12" rx="6" ry="6" fill="#000" opacity="1"/>
<rect x="401.92" y="702.2" width="42" height="11" rx="5.5" ry="5.5" fill="#000" opacity="1"/>
<rect x="405.92" y="695" width="34" height="8" rx="3" ry="3" fill="#000" opacity="0.3"/>
<rect x="455.28" y="684" width="42" height="12" rx="6" ry="6" fill="#000" opacity="1"/>
<rect x="455.28" y="702.2" width="42" height="11" rx="5.5" ry="5.5" fill="#000" opacity="1"/>
<rect x="459.28" y="695" width="34" height="8" rx="3" ry="3" fill="#000" opacity="0.3"/>
<rect x="505.17" y="684" width="45" height="12" rx="6" ry="6" fill="#000" opacity="1"/>
<rect x="505.17" y="702.2" width="45" height="11" rx="5.5" ry="5.5" fill="#000" opacity="1"/>
<rect x="509.17" y="695" width="37" height="8" rx="3" ry="3" fill="#000" opacity="0.3"/>
</g>
</g>
<rect x="144.4" y="672.9" width="413.2" height="56" fill="none" stroke="#0a0a0a" stroke-width="1.8"/>
<rect x="144.7" y="763" width="415.3" height="49.5" fill="#fdfdfd" stroke="none"/>
<g clip-path="url(#c6)" stroke="none">
<g filter="url(#f6_11)">
<path d="M156.44 787.3Q171.94 790.9 187.44 787.3" fill="none" stroke="#000" stroke-width="12" stroke-linecap="round" opacity="1"/>
<path d="M205.84 787.3Q221.34 790.9 236.84 787.3" fill="none" stroke="#000" stroke-width="12" stroke-linecap="round" opacity="1"/>
<path d="M257.23 787.3Q272.73 790.9 288.23 787.3" fill="none" stroke="#000" stroke-width="12" stroke-linecap="round" opacity="1"/>
<path d="M306.63 787.3Q322.13 790.9 337.63 787.3" fill="none" stroke="#000" stroke-width="12" stroke-linecap="round" opacity="1"/>
<path d="M358.02 787.3Q373.52 790.9 389.02 787.3" fill="none" stroke="#000" stroke-width="12" stroke-linecap="round" opacity="1"/>
<path d="M407.42 787.3Q422.92 790.9 438.42 787.3" fill="none" stroke="#000" stroke-width="12" stroke-linecap="round" opacity="1"/>
<path d="M460.78 787.3Q476.28 790.9 491.78 787.3" fill="none" stroke="#000" stroke-width="12" stroke-linecap="round" opacity="1"/>
<path d="M512.17 787.3Q527.67 790.9 543.17 787.3" fill="none" stroke="#000" stroke-width="12" stroke-linecap="round" opacity="1"/>
</g>
</g>
<rect x="145.6" y="763.9" width="413.5" height="47.7" fill="none" stroke="#0a0a0a" stroke-width="1.8"/>
<text x="138.5" y="642.9" font-size="30.3" text-anchor="end">p-ERK1/2</text>
<text x="135.5" y="709.7" font-size="30.3" text-anchor="end">ERK1/2</text>
<text x="136.5" y="803.8" font-size="30.3" text-anchor="end">HSP90</text>
<line x1="559.3" y1="645.9" x2="569" y2="645.9" stroke-width="1.7"/>
<text x="572.5" y="657.8" font-size="29.3">40</text>
<line x1="558.5" y1="717.6" x2="573" y2="717.6" stroke-width="1.7"/>
<text x="579" y="728.9" font-size="29.3">40</text>
<line x1="560" y1="778.9" x2="569" y2="778.9" stroke-width="1.7"/>
<text x="571.5" y="790.9" font-size="29.3">100</text>
<text x="100.5" y="753.6" font-size="23" font-style="italic">p/t</text>
<text x="166.01" y="753.6" font-size="23.7" text-anchor="middle">1.0</text>
<text x="225.3" y="753.6" font-size="23.7" text-anchor="middle">0.8</text>
<text x="273.52" y="753.6" font-size="23.7" text-anchor="middle">4.1</text>
<text x="327.27" y="753.6" font-size="23.7" text-anchor="middle">2.6</text>
<text x="382.61" y="753.6" font-size="23.7" text-anchor="middle">5.1</text>
<text x="428.85" y="753.6" font-size="23.7" text-anchor="middle">4.8</text>
<text x="481.42" y="753.6" font-size="23.7" text-anchor="middle">5.9</text>
<text x="533.6" y="753.6" font-size="23.7" text-anchor="middle">6.2</text>
<text x="669" y="523" font-size="34" font-weight="bold" stroke="none">e</text>
<text x="845" y="583.4" font-size="30" font-style="italic">Ets1</text>
<path d="M809.03 894.1V830.64H841.61V894.1" fill="#fff" stroke-width="3" stroke-linejoin="miter"/>
<path d="M862.03 894.1V842.5H894.62V894.1" fill="#fff" stroke-width="3" stroke-linejoin="miter"/>
<path d="M914.67 894.1V776.53H947.25V894.1" fill="#fff" stroke-width="3" stroke-linejoin="miter"/>
<path d="M967.67 894.1V838.79H1000.25V894.1" fill="#fff" stroke-width="3" stroke-linejoin="miter"/>
<path d="M1020.3 894.1V736.87H1052.88V894.1" fill="#fff" stroke-width="3" stroke-linejoin="miter"/>
<path d="M1073.3 894.1V735.76H1105.88V894.1" fill="#fff" stroke-width="3" stroke-linejoin="miter"/>
<path d="M1125.93 894.1V769.11H1158.51V894.1" fill="#fff" stroke-width="3" stroke-linejoin="miter"/>
<path d="M1178.94 894.1V715.37H1212.26V894.1" fill="#fff" stroke-width="3" stroke-linejoin="miter"/>
<line x1="799.4" y1="633.25" x2="799.4" y2="895.05" stroke-width="1.9"/>
<line x1="789.9" y1="894.1" x2="1222" y2="894.1" stroke-width="1.9"/>
<line x1="789.9" y1="634.2" x2="799.4" y2="634.2" stroke-width="1.9"/>
<text x="789.1" y="646.17" font-size="30.3" text-anchor="end">4</text>
<line x1="789.9" y1="699.4" x2="799.4" y2="699.4" stroke-width="1.9"/>
<text x="789.1" y="710.07" font-size="30.3" text-anchor="end">3</text>
<line x1="789.9" y1="764.4" x2="799.4" y2="764.4" stroke-width="1.9"/>
<text x="789.1" y="773.67" font-size="30.3" text-anchor="end">2</text>
<line x1="789.9" y1="829.3" x2="799.4" y2="829.3" stroke-width="1.9"/>
<text x="789.1" y="837.97" font-size="30.3" text-anchor="end">1</text>
<line x1="789.9" y1="894.1" x2="799.4" y2="894.1" stroke-width="1.9"/>
<text x="789.1" y="905.17" font-size="30.3" text-anchor="end">0</text>
<line x1="825.32" y1="894.1" x2="825.32" y2="902.6" stroke-width="1.9"/>
<line x1="825.32" y1="822.84" x2="825.32" y2="835.44" stroke-width="1.9"/>
<line x1="815.82" y1="822.84" x2="834.82" y2="822.84" stroke-width="1.9"/>
<line x1="815.82" y1="835.44" x2="834.82" y2="835.44" stroke-width="1.9"/>
<circle cx="814.2" cy="820.99" r="5.5" fill="none" stroke-width="2"/>
<circle cx="837.55" cy="816.17" r="5.5" fill="none" stroke-width="2"/>
<circle cx="836.44" cy="836.55" r="5.5" fill="none" stroke-width="2"/>
<circle cx="813.46" cy="843.22" r="5.5" fill="none" stroke-width="2"/>
<line x1="878.32" y1="894.1" x2="878.32" y2="902.6" stroke-width="1.9"/>
<line x1="878.32" y1="835.81" x2="878.32" y2="845.82" stroke-width="1.9"/>
<line x1="868.82" y1="835.81" x2="887.82" y2="835.81" stroke-width="1.9"/>
<line x1="868.82" y1="845.82" x2="887.82" y2="845.82" stroke-width="1.9"/>
<circle cx="878.32" cy="826.55" r="5.5" fill="none" stroke-width="2"/>
<circle cx="866.09" cy="847.67" r="5.5" fill="none" stroke-width="2"/>
<circle cx="878.32" cy="843.97" r="5.5" fill="none" stroke-width="2"/>
<circle cx="890.93" cy="845.08" r="5.5" fill="none" stroke-width="2"/>
<line x1="930.96" y1="894.1" x2="930.96" y2="902.6" stroke-width="1.9"/>
<line x1="930.96" y1="767.98" x2="930.96" y2="782.81" stroke-width="1.9"/>
<line x1="921.46" y1="767.98" x2="940.46" y2="767.98" stroke-width="1.9"/>
<line x1="921.46" y1="782.81" x2="940.46" y2="782.81" stroke-width="1.9"/>
<circle cx="919.1" cy="764.28" r="5.5" fill="none" stroke-width="2"/>
<circle cx="943.93" cy="760.57" r="5.5" fill="none" stroke-width="2"/>
<circle cx="919.84" cy="789.48" r="5.5" fill="none" stroke-width="2"/>
<circle cx="943.19" cy="786.52" r="5.5" fill="none" stroke-width="2"/>
<line x1="983.96" y1="894.1" x2="983.96" y2="902.6" stroke-width="1.9"/>
<line x1="983.96" y1="831.73" x2="983.96" y2="843.22" stroke-width="1.9"/>
<line x1="974.46" y1="831.73" x2="993.46" y2="831.73" stroke-width="1.9"/>
<line x1="974.46" y1="843.22" x2="993.46" y2="843.22" stroke-width="1.9"/>
<circle cx="971.73" cy="830.99" r="5.5" fill="none" stroke-width="2"/>
<circle cx="996.56" cy="824.69" r="5.5" fill="none" stroke-width="2"/>
<circle cx="972.47" cy="849.53" r="5.5" fill="none" stroke-width="2"/>
<circle cx="996.56" cy="842.11" r="5.5" fill="none" stroke-width="2"/>
<line x1="1036.59" y1="894.1" x2="1036.59" y2="902.6" stroke-width="1.9"/>
<line x1="1036.59" y1="705.72" x2="1036.59" y2="766.13" stroke-width="1.9"/>
<line x1="1027.09" y1="705.72" x2="1046.09" y2="705.72" stroke-width="1.9"/>
<line x1="1027.09" y1="766.13" x2="1046.09" y2="766.13" stroke-width="1.9"/>
<circle cx="1036.59" cy="647.52" r="5.5" fill="none" stroke-width="2"/>
<circle cx="1036.59" cy="746.86" r="5.5" fill="none" stroke-width="2"/>
<circle cx="1036.59" cy="767.24" r="5.5" fill="none" stroke-width="2"/>
<circle cx="1036.59" cy="780.21" r="5.5" fill="none" stroke-width="2"/>
<line x1="1089.59" y1="894.1" x2="1089.59" y2="902.6" stroke-width="1.9"/>
<line x1="1089.59" y1="724.25" x2="1089.59" y2="745" stroke-width="1.9"/>
<line x1="1080.09" y1="724.25" x2="1099.09" y2="724.25" stroke-width="1.9"/>
<line x1="1080.09" y1="745" x2="1099.09" y2="745" stroke-width="1.9"/>
<circle cx="1089.59" cy="706.83" r="5.5" fill="none" stroke-width="2"/>
<circle cx="1077.36" cy="734.63" r="5.5" fill="none" stroke-width="2"/>
<circle cx="1101.45" cy="743.15" r="5.5" fill="none" stroke-width="2"/>
<circle cx="1077.36" cy="754.27" r="5.5" fill="none" stroke-width="2"/>
<line x1="1142.22" y1="894.1" x2="1142.22" y2="902.6" stroke-width="1.9"/>
<line x1="1142.22" y1="745.74" x2="1142.22" y2="790.22" stroke-width="1.9"/>
<line x1="1132.72" y1="745.74" x2="1151.72" y2="745.74" stroke-width="1.9"/>
<line x1="1132.72" y1="790.22" x2="1151.72" y2="790.22" stroke-width="1.9"/>
<circle cx="1142.22" cy="726.47" r="5.5" fill="none" stroke-width="2"/>
<circle cx="1142.22" cy="749.45" r="5.5" fill="none" stroke-width="2"/>
<circle cx="1142.22" cy="765.02" r="5.5" fill="none" stroke-width="2"/>
<circle cx="1142.22" cy="830.99" r="5.5" fill="none" stroke-width="2"/>
<line x1="1195.6" y1="894.1" x2="1195.6" y2="902.6" stroke-width="1.9"/>
<line x1="1195.6" y1="711.65" x2="1195.6" y2="716.83" stroke-width="1.9"/>
<line x1="1186.1" y1="711.65" x2="1205.1" y2="711.65" stroke-width="1.9"/>
<line x1="1186.1" y1="716.83" x2="1205.1" y2="716.83" stroke-width="1.9"/>
<circle cx="1182.99" cy="706.83" r="5.5" fill="none" stroke-width="2"/>
<circle cx="1182.99" cy="720.54" r="5.5" fill="none" stroke-width="2"/>
<circle cx="1195.97" cy="713.5" r="5.5" fill="none" stroke-width="2"/>
<circle cx="1207.09" cy="716.83" r="5.5" fill="none" stroke-width="2"/>
<path d="M983.96 633.81V555.6H1197.08V562.28M983.96 578.95H1141.11V585.63M983.96 593.04H1089.59V601.19M983.96 611.57H1037.7V617.87" fill="none" stroke-width="2.3" stroke-linejoin="miter"/>
<text x="1173.73" y="577.84" font-size="17.2" font-style="italic">p&lt;0.0001</text>
<text x="1117.02" y="598.6" font-size="17.2" font-style="italic">p=0.0241</text>
<text x="1048.45" y="616.76" font-size="17.2" font-style="italic">p=0.0001</text>
<text x="1004.34" y="635.66" font-size="17.2" font-style="italic">p=0.0167</text>
<text x="924.66" y="711.28" font-size="17.2" font-style="italic">p=0.0007</text>
<path d="M930.96 728.32V721.28H984.7V743.52" fill="none" stroke-width="2.3" stroke-linejoin="miter"/>
<text x="718.04" y="756" font-size="31.5" text-anchor="middle" transform="rotate(-90 718.04 756)">Relative mRNA</text>
<text x="756.94" y="758.7" font-size="31.5" text-anchor="middle" transform="rotate(-90 756.94 758.7)">level (a.u.)</text>
<text x="801.5" y="933.7" font-size="26" text-anchor="end">LS-102</text>
<text x="808.6" y="964.4" font-size="26.1" text-anchor="end">poly(I:C)</text>
<text x="811" y="1006.3" font-size="26" text-anchor="end">Cytokine</text>
<text x="825.32" y="930.24" font-size="27.5" text-anchor="middle">-</text>
<text x="877.21" y="933.93" font-size="27.5" text-anchor="middle">+</text>
<text x="929.1" y="932.36" font-size="27.5" text-anchor="middle">-</text>
<text x="980.99" y="936.05" font-size="27.5" text-anchor="middle">+</text>
<text x="1034" y="937.11" font-size="27.5" text-anchor="middle">+</text>
<text x="1086.63" y="938.17" font-size="27.5" text-anchor="middle">+</text>
<text x="1139.63" y="939.22" font-size="27.5" text-anchor="middle">+</text>
<text x="1194.11" y="940.28" font-size="27.5" text-anchor="middle">+</text>
<text x="825.32" y="960.63" font-size="27.5" text-anchor="middle">-</text>
<text x="877.21" y="961.69" font-size="27.5" text-anchor="middle">-</text>
<text x="929.1" y="965.38" font-size="27.5" text-anchor="middle">+</text>
<text x="980.99" y="966.44" font-size="27.5" text-anchor="middle">+</text>
<text x="1034" y="967.5" font-size="27.5" text-anchor="middle">+</text>
<text x="1086.63" y="968.56" font-size="27.5" text-anchor="middle">+</text>
<text x="1139.63" y="969.62" font-size="27.5" text-anchor="middle">+</text>
<text x="1194.11" y="970.68" font-size="27.5" text-anchor="middle">+</text>
<text x="825.32" y="1008.82" font-size="27.5" text-anchor="middle">-</text>
<text x="877.21" y="1009.44" font-size="27.5" text-anchor="middle">-</text>
<text x="929.1" y="1010.05" font-size="27.5" text-anchor="middle">-</text>
<text x="980.99" y="1010.67" font-size="27.5" text-anchor="middle">-</text>
<text x="1067.39" y="990.85" font-size="26" text-anchor="end" transform="rotate(-45 1067.39 990.85)">TNFα</text>
<text x="1113.72" y="992.7" font-size="26" text-anchor="end" transform="rotate(-45 1113.72 992.7)">IL1β</text>
<text x="1158.2" y="1001.97" font-size="26" text-anchor="end" transform="rotate(-45 1158.2 1001.97)">IL6</text>
<text x="1223.06" y="992.7" font-size="26" text-anchor="end" transform="rotate(-45 1223.06 992.7)">IFNβ</text>
<text x="1338.5" y="585" font-size="30" font-style="italic">Hrd1</text>
<path d="M1296.45 895.8V845.86H1327.7V895.8" fill="#fff" stroke-width="3" stroke-linejoin="miter"/>
<path d="M1349.01 895.8V856.03H1380.93V895.8" fill="#fff" stroke-width="3" stroke-linejoin="miter"/>
<path d="M1402.25 895.8V768.54H1434.17V895.8" fill="#fff" stroke-width="3" stroke-linejoin="miter"/>
<path d="M1455.48 895.8V839.75H1487.07V895.8" fill="#fff" stroke-width="3" stroke-linejoin="miter"/>
<path d="M1508.38 895.8V758.37H1540.31V895.8" fill="#fff" stroke-width="3" stroke-linejoin="miter"/>
<path d="M1561.62 895.8V791.26H1592.87V895.8" fill="#fff" stroke-width="3" stroke-linejoin="miter"/>
<path d="M1614.86 895.8V787.19H1646.11V895.8" fill="#fff" stroke-width="3" stroke-linejoin="miter"/>
<path d="M1667.76 895.8V782.79H1699.01V895.8" fill="#fff" stroke-width="3" stroke-linejoin="miter"/>
<line x1="1286.1" y1="634.25" x2="1286.1" y2="896.75" stroke-width="1.9"/>
<line x1="1277.1" y1="895.8" x2="1710.5" y2="895.8" stroke-width="1.9"/>
<line x1="1277.1" y1="635.2" x2="1286.1" y2="635.2" stroke-width="1.9"/>
<text x="1275.9" y="646.92" font-size="29.6" text-anchor="end">5</text>
<line x1="1277.1" y1="687.3" x2="1286.1" y2="687.3" stroke-width="1.9"/>
<text x="1275.9" y="699.22" font-size="29.6" text-anchor="end">4</text>
<line x1="1277.1" y1="739.6" x2="1286.1" y2="739.6" stroke-width="1.9"/>
<text x="1275.9" y="750.02" font-size="29.6" text-anchor="end">3</text>
<line x1="1277.1" y1="791.7" x2="1286.1" y2="791.7" stroke-width="1.9"/>
<text x="1275.9" y="802.72" font-size="29.6" text-anchor="end">2</text>
<line x1="1277.1" y1="844" x2="1286.1" y2="844" stroke-width="1.9"/>
<text x="1275.9" y="854.42" font-size="29.6" text-anchor="end">1</text>
<line x1="1277.1" y1="895.8" x2="1286.1" y2="895.8" stroke-width="1.9"/>
<text x="1275.9" y="907.72" font-size="29.6" text-anchor="end">0</text>
<line x1="1312.07" y1="895.8" x2="1312.07" y2="904.3" stroke-width="1.9"/>
<line x1="1312.07" y1="842.66" x2="1312.07" y2="847.75" stroke-width="1.9"/>
<line x1="1302.57" y1="842.66" x2="1321.57" y2="842.66" stroke-width="1.9"/>
<line x1="1302.57" y1="847.75" x2="1321.57" y2="847.75" stroke-width="1.9"/>
<circle cx="1300.03" cy="837.58" r="5.5" fill="none" stroke-width="2"/>
<circle cx="1311.9" cy="839.27" r="5.5" fill="none" stroke-width="2"/>
<circle cx="1324.79" cy="846.05" r="5.5" fill="none" stroke-width="2"/>
<circle cx="1300.03" cy="854.53" r="5.5" fill="none" stroke-width="2"/>
<line x1="1364.97" y1="895.8" x2="1364.97" y2="904.3" stroke-width="1.9"/>
<line x1="1364.97" y1="851.14" x2="1364.97" y2="858.94" stroke-width="1.9"/>
<line x1="1355.47" y1="851.14" x2="1374.47" y2="851.14" stroke-width="1.9"/>
<line x1="1355.47" y1="858.94" x2="1374.47" y2="858.94" stroke-width="1.9"/>
<circle cx="1353.27" cy="851.14" r="5.5" fill="none" stroke-width="2"/>
<circle cx="1377.35" cy="846.05" r="5.5" fill="none" stroke-width="2"/>
<circle cx="1353.27" cy="865.72" r="5.5" fill="none" stroke-width="2"/>
<circle cx="1376.33" cy="857.92" r="5.5" fill="none" stroke-width="2"/>
<line x1="1418.21" y1="895.8" x2="1418.21" y2="904.3" stroke-width="1.9"/>
<line x1="1418.21" y1="761.28" x2="1418.21" y2="774.16" stroke-width="1.9"/>
<line x1="1408.71" y1="761.28" x2="1427.71" y2="761.28" stroke-width="1.9"/>
<line x1="1408.71" y1="774.16" x2="1427.71" y2="774.16" stroke-width="1.9"/>
<circle cx="1405.83" cy="757.21" r="5.5" fill="none" stroke-width="2"/>
<circle cx="1418.04" cy="763.99" r="5.5" fill="none" stroke-width="2"/>
<circle cx="1431.26" cy="762.3" r="5.5" fill="none" stroke-width="2"/>
<circle cx="1418.04" cy="785.02" r="5.5" fill="none" stroke-width="2"/>
<line x1="1471.28" y1="895.8" x2="1471.28" y2="904.3" stroke-width="1.9"/>
<line x1="1471.28" y1="835.2" x2="1471.28" y2="842.66" stroke-width="1.9"/>
<line x1="1461.78" y1="835.2" x2="1480.78" y2="835.2" stroke-width="1.9"/>
<line x1="1461.78" y1="842.66" x2="1480.78" y2="842.66" stroke-width="1.9"/>
<circle cx="1459.41" cy="834.18" r="5.5" fill="none" stroke-width="2"/>
<circle cx="1483.15" cy="829.1" r="5.5" fill="none" stroke-width="2"/>
<circle cx="1459.41" cy="847.75" r="5.5" fill="none" stroke-width="2"/>
<circle cx="1483.15" cy="842.66" r="5.5" fill="none" stroke-width="2"/>
<line x1="1524.35" y1="895.8" x2="1524.35" y2="904.3" stroke-width="1.9"/>
<line x1="1524.35" y1="719.91" x2="1524.35" y2="794.17" stroke-width="1.9"/>
<line x1="1514.85" y1="719.91" x2="1533.85" y2="719.91" stroke-width="1.9"/>
<line x1="1514.85" y1="794.17" x2="1533.85" y2="794.17" stroke-width="1.9"/>
<circle cx="1523.84" cy="650.05" r="5.5" fill="none" stroke-width="2"/>
<circle cx="1511.97" cy="775.52" r="5.5" fill="none" stroke-width="2"/>
<circle cx="1536.39" cy="779.25" r="5.5" fill="none" stroke-width="2"/>
<circle cx="1523.84" cy="824.01" r="5.5" fill="none" stroke-width="2"/>
<line x1="1577.25" y1="895.8" x2="1577.25" y2="904.3" stroke-width="1.9"/>
<line x1="1577.25" y1="777.56" x2="1577.25" y2="801.97" stroke-width="1.9"/>
<line x1="1567.75" y1="777.56" x2="1586.75" y2="777.56" stroke-width="1.9"/>
<line x1="1567.75" y1="801.97" x2="1586.75" y2="801.97" stroke-width="1.9"/>
<circle cx="1577.42" cy="763.99" r="5.5" fill="none" stroke-width="2"/>
<circle cx="1577.42" cy="778.91" r="5.5" fill="none" stroke-width="2"/>
<circle cx="1577.42" cy="797.9" r="5.5" fill="none" stroke-width="2"/>
<circle cx="1577.42" cy="818.93" r="5.5" fill="none" stroke-width="2"/>
<line x1="1630.48" y1="895.8" x2="1630.48" y2="904.3" stroke-width="1.9"/>
<line x1="1630.48" y1="770.77" x2="1630.48" y2="799.26" stroke-width="1.9"/>
<line x1="1620.98" y1="770.77" x2="1639.98" y2="770.77" stroke-width="1.9"/>
<line x1="1620.98" y1="799.26" x2="1639.98" y2="799.26" stroke-width="1.9"/>
<circle cx="1629.98" cy="758.9" r="5.5" fill="none" stroke-width="2"/>
<circle cx="1617.77" cy="774.84" r="5.5" fill="none" stroke-width="2"/>
<circle cx="1642.52" cy="780.95" r="5.5" fill="none" stroke-width="2"/>
<circle cx="1629.98" cy="825.03" r="5.5" fill="none" stroke-width="2"/>
<line x1="1683.38" y1="895.8" x2="1683.38" y2="904.3" stroke-width="1.9"/>
<line x1="1683.38" y1="773.15" x2="1683.38" y2="788.41" stroke-width="1.9"/>
<line x1="1673.88" y1="773.15" x2="1692.88" y2="773.15" stroke-width="1.9"/>
<line x1="1673.88" y1="788.41" x2="1692.88" y2="788.41" stroke-width="1.9"/>
<circle cx="1683.21" cy="759.58" r="5.5" fill="none" stroke-width="2"/>
<circle cx="1670.67" cy="781.62" r="5.5" fill="none" stroke-width="2"/>
<circle cx="1695.76" cy="788.41" r="5.5" fill="none" stroke-width="2"/>
<circle cx="1670.67" cy="795.87" r="5.5" fill="none" stroke-width="2"/>
<path d="M1471.28 630.73V552.73H1684.91V560.19M1471.28 576.47H1628.96V582.23M1471.28 590.71H1577.08V599.19M1471.28 609.36H1525.53V616.14" fill="none" stroke-width="2.3" stroke-linejoin="miter"/>
<text x="1652.7" y="574.77" font-size="17.2" font-style="italic">p=0.0006</text>
<text x="1601.83" y="595.8" font-size="17.2" font-style="italic">p=0.0106</text>
<text x="1550.29" y="616.14" font-size="17.2" font-style="italic">p=0.0082</text>
<text x="1490.61" y="635.13" font-size="17.2" font-style="italic">p=0.0719</text>
<text x="1373.96" y="738.56" font-size="17.2" font-style="italic">p&lt;0.0001</text>
<path d="M1419.74 716.52V709.4H1472.97V731.78" fill="none" stroke-width="2.3" stroke-linejoin="miter"/>
<text x="1312.92" y="930.02" font-size="27.5" text-anchor="middle">-</text>
<text x="1364.46" y="933.71" font-size="27.5" text-anchor="middle">+</text>
<text x="1417.02" y="932.15" font-size="27.5" text-anchor="middle">-</text>
<text x="1468.9" y="935.84" font-size="27.5" text-anchor="middle">+</text>
<text x="1522.82" y="936.91" font-size="27.5" text-anchor="middle">+</text>
<text x="1574.7" y="937.98" font-size="27.5" text-anchor="middle">+</text>
<text x="1628.96" y="939.04" font-size="27.5" text-anchor="middle">+</text>
<text x="1683.21" y="940.11" font-size="27.5" text-anchor="middle">+</text>
<text x="1312.92" y="961.89" font-size="27.5" text-anchor="middle">-</text>
<text x="1364.46" y="962.76" font-size="27.5" text-anchor="middle">-</text>
<text x="1417.02" y="966.27" font-size="27.5" text-anchor="middle">+</text>
<text x="1468.9" y="967.14" font-size="27.5" text-anchor="middle">+</text>
<text x="1522.82" y="968.01" font-size="27.5" text-anchor="middle">+</text>
<text x="1574.7" y="968.88" font-size="27.5" text-anchor="middle">+</text>
<text x="1628.96" y="969.75" font-size="27.5" text-anchor="middle">+</text>
<text x="1683.21" y="970.63" font-size="27.5" text-anchor="middle">+</text>
<text x="1312.92" y="1008.69" font-size="27.5" text-anchor="middle">-</text>
<text x="1364.46" y="1009.25" font-size="27.5" text-anchor="middle">-</text>
<text x="1417.02" y="1009.82" font-size="27.5" text-anchor="middle">-</text>
<text x="1468.9" y="1010.38" font-size="27.5" text-anchor="middle">-</text>
<text x="1555.66" y="991.37" font-size="26" text-anchor="end" transform="rotate(-45 1555.66 991.37)">TNFα</text>
<text x="1599.74" y="996.46" font-size="26" text-anchor="end" transform="rotate(-45 1599.74 996.46)">IL1β</text>
<text x="1647.22" y="1001.54" font-size="26" text-anchor="end" transform="rotate(-45 1647.22 1001.54)">IL6</text>
<text x="1711.65" y="991.37" font-size="26" text-anchor="end" transform="rotate(-45 1711.65 991.37)">IFNβ</text>
<text x="8" y="921.3" font-size="34" font-weight="bold" stroke="none">f</text>
<text x="180.63" y="920.69" font-size="27.5" text-anchor="middle">-</text>
<text x="245.11" y="947.38" font-size="26" transform="rotate(-45 245.11 947.38)">poly(I:C)</text>
<text x="314.28" y="945" font-size="26" transform="rotate(-45 314.28 945)">TNFα</text>
<text x="384.63" y="939.87" font-size="26" transform="rotate(-45 384.63 939.87)">IL1β</text>
<text x="444.71" y="937.1" font-size="26" transform="rotate(-45 444.71 937.1)">IL6</text>
<text x="504.79" y="943.03" font-size="26" transform="rotate(-45 504.79 943.03)">IFNβ</text>
<text x="567" y="939" font-size="25">kDa</text>
<rect x="143" y="947" width="410.4" height="47.4" fill="#fdfdfd" stroke="none"/>
<g clip-path="url(#c7)" stroke="none">
<g filter="url(#f7_13)">
<path d="M165.04 969.1Q183.79 973.9 202.54 969.1" fill="none" stroke="#000" stroke-width="12.5" stroke-linecap="round" opacity="0.8"/>
<path d="M230.26 969.1Q249.01 973.9 267.76 969.1" fill="none" stroke="#000" stroke-width="12.5" stroke-linecap="round" opacity="0.97"/>
<path d="M297.46 969.1Q316.21 973.9 334.96 969.1" fill="none" stroke="#000" stroke-width="12.5" stroke-linecap="round" opacity="0.95"/>
<path d="M362.67 969.1Q381.42 973.9 400.17 969.1" fill="none" stroke="#000" stroke-width="12.5" stroke-linecap="round" opacity="1"/>
<path d="M429.08 969.1Q447.83 973.9 466.58 969.1" fill="none" stroke="#000" stroke-width="12.5" stroke-linecap="round" opacity="0.97"/>
<path d="M496.27 969.1Q515.02 973.9 533.77 969.1" fill="none" stroke="#000" stroke-width="12.5" stroke-linecap="round" opacity="0.95"/>
</g>
</g>
<rect x="143.9" y="947.9" width="408.6" height="45.6" fill="none" stroke="#0a0a0a" stroke-width="1.8"/>
<rect x="146.2" y="1035" width="408" height="50.3" fill="#fdfdfd" stroke="none"/>
<g clip-path="url(#c8)" stroke="none">
<g filter="url(#f8_15)">
<rect x="154" y="1048.5" width="392" height="18" rx="9" ry="9" fill="#000" opacity="1"/>
<path d="M163.29 1057.5Q183.79 1063.5 204.29 1057.5" fill="none" stroke="#000" stroke-width="21" stroke-linecap="round" opacity="1"/>
<path d="M228.51 1057.5Q249.01 1063.5 269.51 1057.5" fill="none" stroke="#000" stroke-width="21" stroke-linecap="round" opacity="1"/>
<path d="M295.71 1057.5Q316.21 1063.5 336.71 1057.5" fill="none" stroke="#000" stroke-width="21" stroke-linecap="round" opacity="1"/>
<path d="M360.92 1057.5Q381.42 1063.5 401.92 1057.5" fill="none" stroke="#000" stroke-width="21" stroke-linecap="round" opacity="1"/>
<path d="M427.33 1057.5Q447.83 1063.5 468.33 1057.5" fill="none" stroke="#000" stroke-width="21" stroke-linecap="round" opacity="1"/>
<path d="M494.52 1057.5Q515.02 1063.5 535.52 1057.5" fill="none" stroke="#000" stroke-width="21" stroke-linecap="round" opacity="1"/>
</g>
</g>
<rect x="147.1" y="1035.9" width="406.2" height="48.5" fill="none" stroke="#0a0a0a" stroke-width="1.8"/>
<text x="128" y="980.6" font-size="28.6" text-anchor="end">HRD1</text>
<text x="134" y="1068.7" font-size="30.1" text-anchor="end">β-actin</text>
<line x1="553.4" y1="985.3" x2="573" y2="985.3" stroke-width="1.7"/>
<text x="577.5" y="997.2" font-size="29.3">70</text>
<line x1="554.2" y1="1074.2" x2="573" y2="1074.2" stroke-width="1.7"/>
<text x="577.5" y="1085.3" font-size="29.3">40</text>
<text x="181.82" y="1022.8" font-size="25" text-anchor="middle">1.0</text>
<text x="249.01" y="1022.8" font-size="25" text-anchor="middle">1.6</text>
<text x="318.18" y="1022.8" font-size="25" text-anchor="middle">1.6</text>
<text x="388.54" y="1022.8" font-size="25" text-anchor="middle">2.0</text>
<text x="446.64" y="1022.8" font-size="25" text-anchor="middle">1.8</text>
<text x="511.86" y="1022.8" font-size="25" text-anchor="middle">1.6</text>
<text x="7.5" y="1198.3" font-size="34" font-weight="bold" stroke="none">g</text>
<text x="224" y="1182.3" font-size="29.6" font-style="italic">Tlr3</text>
<path d="M247.95 1440.3V1426.98H286.41V1440.3" fill="#fff" stroke-width="2.9" stroke-linejoin="miter"/>
<path d="M310.66 1440.3V1295.89H349.12V1440.3" fill="#fff" stroke-width="2.9" stroke-linejoin="miter"/>
<line x1="225.2" y1="1229.85" x2="225.2" y2="1441.25" stroke-width="1.9"/>
<line x1="216.2" y1="1440.3" x2="372" y2="1440.3" stroke-width="1.9"/>
<line x1="216.2" y1="1230.8" x2="225.2" y2="1230.8" stroke-width="1.9"/>
<text x="214.4" y="1241.01" font-size="29" text-anchor="end">15</text>
<line x1="216.2" y1="1300.6" x2="225.2" y2="1300.6" stroke-width="1.9"/>
<text x="214.4" y="1311.41" font-size="29" text-anchor="end">10</text>
<line x1="216.2" y1="1370.6" x2="225.2" y2="1370.6" stroke-width="1.9"/>
<text x="214.4" y="1380.11" font-size="29" text-anchor="end">5</text>
<line x1="216.2" y1="1440.3" x2="225.2" y2="1440.3" stroke-width="1.9"/>
<text x="214.4" y="1453.01" font-size="29" text-anchor="end">0</text>
<line x1="267.18" y1="1440.3" x2="267.18" y2="1448.8" stroke-width="1.9"/>
<line x1="267.18" y1="1424.86" x2="267.18" y2="1427.87" stroke-width="1.9"/>
<line x1="257.18" y1="1424.86" x2="277.18" y2="1424.86" stroke-width="1.9"/>
<line x1="257.18" y1="1427.87" x2="277.18" y2="1427.87" stroke-width="1.9"/>
<circle cx="251.83" cy="1430.2" r="4.9" fill="none" stroke-width="1.9"/>
<circle cx="261.84" cy="1424.2" r="4.9" fill="none" stroke-width="1.9"/>
<circle cx="272.85" cy="1426.2" r="4.9" fill="none" stroke-width="1.9"/>
<circle cx="283.52" cy="1424.53" r="4.9" fill="none" stroke-width="1.9"/>
<line x1="329.89" y1="1440.3" x2="329.89" y2="1448.8" stroke-width="1.9"/>
<line x1="329.89" y1="1285.77" x2="329.89" y2="1305.12" stroke-width="1.9"/>
<line x1="318.89" y1="1285.77" x2="340.89" y2="1285.77" stroke-width="1.9"/>
<line x1="318.89" y1="1305.12" x2="340.89" y2="1305.12" stroke-width="1.9"/>
<circle cx="329.55" cy="1270.09" r="4.9" fill="none" stroke-width="1.9"/>
<circle cx="329.55" cy="1293.44" r="4.9" fill="none" stroke-width="1.9"/>
<circle cx="319.21" cy="1309.45" r="4.9" fill="none" stroke-width="1.9"/>
<circle cx="340.23" cy="1309.45" r="4.9" fill="none" stroke-width="1.9"/>
<path d="M270.18 1231.73V1209.05H335.89V1229.07" fill="none" stroke-width="2.3" stroke-linejoin="miter"/>
<text x="291.86" y="1251.75" font-size="17.2" font-style="italic">p&lt;0.0001</text>
<text x="139.8" y="1330.3" font-size="30" text-anchor="middle" transform="rotate(-90 139.8 1330.3)">Relative mRNA</text>
<text x="177.1" y="1331.7" font-size="30" text-anchor="middle" transform="rotate(-90 177.1 1331.7)">level (a.u.)</text>
<text x="122.5" y="1483.5" font-size="30">poly(I:C)</text>
<text x="265.84" y="1482.96" font-size="29" text-anchor="middle">-</text>
<text x="329.55" y="1488.22" font-size="29" text-anchor="middle">+</text>
<text x="491" y="1198.2" font-size="34" font-weight="bold" stroke="none">h</text>
<text x="780.5" y="1238.2" font-size="29.7" text-anchor="middle">Control</text>
<text x="945" y="1238.2" font-size="29.7" text-anchor="middle">LS-102</text>
<line x1="690.4" y1="1249.7" x2="845.5" y2="1249.7" stroke-width="2.1"/>
<line x1="865.5" y1="1247.9" x2="1020.6" y2="1247.9" stroke-width="2.1"/>
<text x="663" y="1284.9" font-size="26" text-anchor="end">poly(I:C)</text>
<text x="700.01" y="1285" font-size="25" text-anchor="middle">0</text>
<text x="743.29" y="1285" font-size="25" text-anchor="middle">1</text>
<text x="787.33" y="1285" font-size="25" text-anchor="middle">3</text>
<text x="831.37" y="1285" font-size="25" text-anchor="middle">6</text>
<text x="875.04" y="1285" font-size="25" text-anchor="middle">0</text>
<text x="919.08" y="1285" font-size="25" text-anchor="middle">1</text>
<text x="962.36" y="1285" font-size="25" text-anchor="middle">3</text>
<text x="1006.4" y="1285" font-size="25" text-anchor="middle">6</text>
<text x="1033.5" y="1285.5" font-size="29">(h)</text>
<text x="1058.5" y="1308.2" font-size="25.2">kDa</text>
<rect x="668.9" y="1310.1" width="363.4" height="32.8" fill="#e2e2e2" stroke="none"/>
<g clip-path="url(#c9)" stroke="none">
<g filter="url(#b1)">
<rect x="660" y="1304.1" width="63" height="44.8" fill="#fff" opacity="0.85"/>
<rect x="673" y="1304.1" width="38" height="44.8" fill="#000" opacity="0.1"/>
<rect x="723" y="1304.1" width="34" height="44.8" fill="#000" opacity="0.27"/>
<rect x="757" y="1304.1" width="10" height="44.8" fill="#fff" opacity="0.35"/>
<rect x="767" y="1304.1" width="34" height="44.8" fill="#000" opacity="0.33"/>
<rect x="801" y="1304.1" width="10" height="44.8" fill="#fff" opacity="0.2"/>
<rect x="812" y="1304.1" width="34" height="44.8" fill="#000" opacity="0.55"/>
<rect x="846" y="1304.1" width="194" height="44.8" fill="#000" opacity="0.1"/>
<rect x="890" y="1304.1" width="8" height="44.8" fill="#fff" opacity="0.5"/>
<rect x="934.5" y="1304.1" width="8" height="44.8" fill="#fff" opacity="0.5"/>
<rect x="979" y="1304.1" width="8" height="44.8" fill="#fff" opacity="0.5"/>
<rect x="1026" y="1304.1" width="14" height="44.8" fill="#fff" opacity="0.5"/>
<rect x="671" y="1339" width="35" height="7" fill="#000" opacity="1"/>
<rect x="724" y="1331" width="32" height="10" fill="#000" opacity="0.18"/>
<rect x="768" y="1332" width="32" height="9" fill="#000" opacity="0.35"/>
<rect x="813" y="1333" width="32" height="8" fill="#000" opacity="0.75"/>
<rect x="813" y="1311" width="32" height="6" fill="#000" opacity="0.7"/>
<rect x="811" y="1304.1" width="5" height="44.8" fill="#000" opacity="0.8"/>
</g>
<g filter="url(#f9_18)">
<rect x="677" y="1321.85" width="32" height="3.5" rx="2" ry="1.75" fill="#000" opacity="0.6"/>
<rect x="723.5" y="1321.75" width="32" height="4.5" rx="2" ry="2" fill="#000" opacity="0.75"/>
<rect x="766.5" y="1322.55" width="34" height="5.5" rx="2" ry="2" fill="#000" opacity="0.95"/>
<rect x="811.5" y="1323.25" width="34" height="6.5" rx="2" ry="2" fill="#000" opacity="1"/>
<rect x="857" y="1324.8" width="30" height="4" rx="2" ry="2" fill="#000" opacity="0.5"/>
<rect x="901" y="1324.7" width="31" height="4.2" rx="2" ry="2" fill="#000" opacity="0.55"/>
<rect x="945.5" y="1324.9" width="30" height="3.8" rx="2" ry="1.9" fill="#000" opacity="0.4"/>
<rect x="989.8" y="1324.5" width="32" height="5" rx="2" ry="2" fill="#000" opacity="0.85"/>
</g>
</g>
<rect x="669.8" y="1311" width="361.6" height="31" fill="none" stroke="#0a0a0a" stroke-width="1.8"/>
<rect x="670.5" y="1394.8" width="362.7" height="51" fill="#fdfdfd" stroke="none"/>
<g clip-path="url(#c10)" stroke="none">
<g filter="url(#f10_20)">
<rect x="673" y="1412.25" width="40" height="12.5" rx="6" ry="6" fill="#000" opacity="1"/>
<rect x="719.5" y="1412.25" width="40" height="12.5" rx="6" ry="6" fill="#000" opacity="1"/>
<rect x="763.5" y="1412.25" width="40" height="12.5" rx="6" ry="6" fill="#000" opacity="1"/>
<rect x="808.5" y="1412.25" width="40" height="12.5" rx="6" ry="6" fill="#000" opacity="1"/>
<rect x="852" y="1412.25" width="40" height="12.5" rx="6" ry="6" fill="#000" opacity="1"/>
<rect x="896.5" y="1412.25" width="40" height="12.5" rx="6" ry="6" fill="#000" opacity="1"/>
<rect x="940.5" y="1412.25" width="40" height="12.5" rx="6" ry="6" fill="#000" opacity="1"/>
<rect x="985.8" y="1412.25" width="40" height="12.5" rx="6" ry="6" fill="#000" opacity="1"/>
</g>
</g>
<rect x="671.4" y="1395.7" width="360.9" height="49.2" fill="none" stroke="#0a0a0a" stroke-width="1.8"/>
<text x="657.5" y="1341.2" font-size="30.2" text-anchor="end">TLR3</text>
<text x="659" y="1428.5" font-size="30.2" text-anchor="end">β-actin</text>
<line x1="1032" y1="1333.5" x2="1051.5" y2="1333.5" stroke-width="1.7"/>
<text x="1057" y="1343.3" font-size="29.3">130</text>
<line x1="1033" y1="1434.3" x2="1051.5" y2="1434.3" stroke-width="1.7"/>
<text x="1055.5" y="1443.8" font-size="29.3">40</text>
<text x="693.5" y="1379.9" font-size="25" text-anchor="middle">1.0</text>
<text x="739.07" y="1379.9" font-size="25" text-anchor="middle">1.2</text>
<text x="784.27" y="1379.9" font-size="25" text-anchor="middle">2.1</text>
<text x="827.55" y="1379.9" font-size="25" text-anchor="middle">2.4</text>
<text x="876.95" y="1379.9" font-size="25" text-anchor="middle">1.1</text>
<text x="923.29" y="1379.9" font-size="25" text-anchor="middle">1.1</text>
<text x="968.1" y="1379.9" font-size="25" text-anchor="middle">0.8</text>
<text x="1012.15" y="1379.9" font-size="25" text-anchor="middle">1.5</text>
<text x="1154.5" y="1131.4" font-size="34" font-weight="bold" stroke="none">i</text>
<text x="1328.5" y="1154" font-size="25.7" text-anchor="end">poly(I:C)</text>
<text x="1326" y="1191.6" font-size="25.7" text-anchor="end">LS-102</text>
<text x="1331.3" y="1227.3" font-size="25.5" text-anchor="end">Fludarabine (µM)</text>
<text x="1346.92" y="1154.51" font-size="27.5" text-anchor="middle">-</text>
<text x="1400.72" y="1155.57" font-size="27.5" text-anchor="middle">-</text>
<text x="1456.03" y="1159.25" font-size="27.5" text-anchor="middle">+</text>
<text x="1505.69" y="1160.3" font-size="27.5" text-anchor="middle">+</text>
<text x="1559.49" y="1161.36" font-size="27.5" text-anchor="middle">+</text>
<text x="1612.16" y="1162.41" font-size="27.5" text-anchor="middle">+</text>
<text x="1346.92" y="1191.01" font-size="27.5" text-anchor="middle">-</text>
<text x="1400.72" y="1194.69" font-size="27.5" text-anchor="middle">+</text>
<text x="1456.03" y="1193.12" font-size="27.5" text-anchor="middle">-</text>
<text x="1505.69" y="1196.8" font-size="27.5" text-anchor="middle">+</text>
<text x="1559.49" y="1195.22" font-size="27.5" text-anchor="middle">-</text>
<text x="1612.16" y="1196.28" font-size="27.5" text-anchor="middle">-</text>
<text x="1346.92" y="1227.88" font-size="27.5" text-anchor="middle">-</text>
<text x="1400.72" y="1228.63" font-size="27.5" text-anchor="middle">-</text>
<text x="1456.03" y="1229.38" font-size="27.5" text-anchor="middle">-</text>
<text x="1505.69" y="1230.14" font-size="27.5" text-anchor="middle">-</text>
<text x="1557.61" y="1231.8" font-size="25" text-anchor="middle">50</text>
<text x="1614.04" y="1231.8" font-size="25" text-anchor="middle">100</text>
<text x="1663.5" y="1231" font-size="25">kDa</text>
<rect x="1324.3" y="1241.6" width="319.1" height="62.8" fill="#f6f6f6" stroke="none"/>
<g clip-path="url(#c11)" stroke="none">
<g filter="url(#f11_22)">
<rect x="1443.55" y="1261.55" width="40" height="13.5" rx="6" ry="6" fill="#000" opacity="1"/>
<rect x="1445.05" y="1280.3" width="37" height="9" rx="4.5" ry="4.5" fill="#000" opacity="1"/>
<rect x="1445.55" y="1273" width="36" height="8" rx="3" ry="3" fill="#000" opacity="0.55"/>
<rect x="1495.46" y="1269.25" width="34" height="4.5" rx="2" ry="2" fill="#000" opacity="0.4"/>
<rect x="1496.46" y="1283" width="32" height="4" rx="2" ry="2" fill="#000" opacity="0.15"/>
<rect x="1546.38" y="1269.25" width="36" height="5.5" rx="2.5" ry="2.5" fill="#000" opacity="0.6"/>
<rect x="1547.38" y="1283.75" width="34" height="4.5" rx="2" ry="2" fill="#000" opacity="0.25"/>
<rect x="1599.92" y="1272" width="32" height="4" rx="2" ry="2" fill="#000" opacity="0.18"/>
</g>
</g>
<rect x="1325.2" y="1242.5" width="317.3" height="61" fill="none" stroke="#0a0a0a" stroke-width="1.8"/>
<rect x="1325.1" y="1318.4" width="320.2" height="65.8" fill="#fdfdfd" stroke="none"/>
<g clip-path="url(#c12)" stroke="none">
<g filter="url(#f12_24)">
<rect x="1332.7" y="1338.45" width="45" height="11.5" rx="5.5" ry="5.5" fill="#000" opacity="1"/>
<rect x="1333.2" y="1353.3" width="44" height="9" rx="4.5" ry="4.5" fill="#000" opacity="0.97"/>
<rect x="1336.2" y="1347.5" width="38" height="8" rx="3" ry="3" fill="#000" opacity="0.45"/>
<rect x="1387.25" y="1338.45" width="45" height="11.5" rx="5.5" ry="5.5" fill="#000" opacity="1"/>
<rect x="1387.75" y="1353.3" width="44" height="9" rx="4.5" ry="4.5" fill="#000" opacity="0.97"/>
<rect x="1390.75" y="1347.5" width="38" height="8" rx="3" ry="3" fill="#000" opacity="0.45"/>
<rect x="1441.05" y="1338.45" width="45" height="11.5" rx="5.5" ry="5.5" fill="#000" opacity="1"/>
<rect x="1441.55" y="1353.3" width="44" height="9" rx="4.5" ry="4.5" fill="#000" opacity="0.97"/>
<rect x="1444.55" y="1347.5" width="38" height="8" rx="3" ry="3" fill="#000" opacity="0.45"/>
<rect x="1491.46" y="1339.95" width="42" height="11.5" rx="5.5" ry="5.5" fill="#000" opacity="1"/>
<rect x="1492.46" y="1355.1" width="40" height="9" rx="4.5" ry="4.5" fill="#000" opacity="0.97"/>
<rect x="1493.46" y="1349" width="38" height="8" rx="3" ry="3" fill="#000" opacity="0.3"/>
<rect x="1543.38" y="1339.95" width="42" height="11.5" rx="5.5" ry="5.5" fill="#000" opacity="1"/>
<rect x="1544.38" y="1355.1" width="40" height="9" rx="4.5" ry="4.5" fill="#000" opacity="0.97"/>
<rect x="1545.38" y="1349" width="38" height="8" rx="3" ry="3" fill="#000" opacity="0.3"/>
<rect x="1594.92" y="1339.95" width="42" height="11.5" rx="5.5" ry="5.5" fill="#000" opacity="1"/>
<rect x="1595.92" y="1355.1" width="40" height="9" rx="4.5" ry="4.5" fill="#000" opacity="0.97"/>
<rect x="1596.92" y="1349" width="38" height="8" rx="3" ry="3" fill="#000" opacity="0.3"/>
</g>
</g>
<rect x="1326" y="1319.3" width="318.4" height="64" fill="none" stroke="#0a0a0a" stroke-width="1.8"/>
<rect x="1324.3" y="1421" width="320.6" height="53.9" fill="#fdfdfd" stroke="none"/>
<g clip-path="url(#c13)" stroke="none">
<g filter="url(#f13_26)">
<path d="M1340.2 1446.05Q1355.2 1451.05 1370.2 1446.05" fill="none" stroke="#000" stroke-width="16" stroke-linecap="round" opacity="1"/>
<path d="M1394.75 1451.2Q1409.75 1453.6 1424.75 1451.2" fill="none" stroke="#000" stroke-width="16" stroke-linecap="round" opacity="1"/>
<path d="M1448.55 1448.7Q1463.55 1451.1 1478.55 1448.7" fill="none" stroke="#000" stroke-width="16" stroke-linecap="round" opacity="1"/>
<path d="M1497.46 1448.7Q1512.46 1451.1 1527.46 1448.7" fill="none" stroke="#000" stroke-width="16" stroke-linecap="round" opacity="1"/>
<path d="M1549.38 1448.7Q1564.38 1451.1 1579.38 1448.7" fill="none" stroke="#000" stroke-width="16" stroke-linecap="round" opacity="1"/>
<path d="M1601.92 1448.7Q1615.92 1451.1 1629.92 1448.7" fill="none" stroke="#000" stroke-width="14" stroke-linecap="round" opacity="1"/>
</g>
</g>
<rect x="1325.2" y="1421.9" width="318.8" height="52.1" fill="none" stroke="#0a0a0a" stroke-width="1.8"/>
<text x="1317.5" y="1283" font-size="30.2" text-anchor="end">p-STAT1</text>
<text x="1314.5" y="1367.7" font-size="30.2" text-anchor="end">STAT1</text>
<text x="1315" y="1453.8" font-size="30.2" text-anchor="end">β-actin</text>
<line x1="1643.4" y1="1262" x2="1663" y2="1262" stroke-width="1.7"/>
<text x="1663.5" y="1271.7" font-size="29.3">100</text>
<line x1="1645.3" y1="1335.7" x2="1666.7" y2="1335.7" stroke-width="1.7"/>
<text x="1667.5" y="1347" font-size="29.3">100</text>
<line x1="1644.9" y1="1465" x2="1666.7" y2="1465" stroke-width="1.7"/>
<text x="1669.5" y="1474.5" font-size="29.3">40</text>
<text x="1285.5" y="1410.5" font-size="23" font-style="italic">p/t</text>
<text x="1466.19" y="1410.5" font-size="24" text-anchor="middle">1.0</text>
<text x="1519.23" y="1410.5" font-size="24" text-anchor="middle">0.1</text>
<text x="1570.02" y="1410.5" font-size="24" text-anchor="middle">0.2</text>
<text x="1622.69" y="1410.5" font-size="24" text-anchor="middle">0.1</text>
<text x="24.5" y="1580" font-size="34" font-weight="bold" stroke="none">j</text>
<text x="372.5" y="1569.3" font-size="30" font-style="italic">Irf1</text>
<path d="M346.94 1869.8V1860.28H385.08V1869.8" fill="#fff" stroke-width="3" stroke-linejoin="miter"/>
<path d="M407.36 1869.8V1858.43H445.5V1869.8" fill="#fff" stroke-width="3" stroke-linejoin="miter"/>
<path d="M468.51 1869.8V1657.54H506.28V1869.8" fill="#fff" stroke-width="3" stroke-linejoin="miter"/>
<path d="M529.3 1869.8V1852.13H566.7V1869.8" fill="#fff" stroke-width="3" stroke-linejoin="miter"/>
<path d="M590.04 1869.8V1713.88H627.44V1869.8" fill="#fff" stroke-width="3" stroke-linejoin="miter"/>
<path d="M650.45 1869.8V1744.64H688.23V1869.8" fill="#fff" stroke-width="3" stroke-linejoin="miter"/>
<line x1="336.1" y1="1602.25" x2="336.1" y2="1870.75" stroke-width="1.9"/>
<line x1="326.5" y1="1869.8" x2="699" y2="1869.8" stroke-width="1.9"/>
<line x1="326.5" y1="1603.2" x2="336.1" y2="1603.2" stroke-width="1.9"/>
<text x="325.5" y="1616.01" font-size="29" text-anchor="end">25</text>
<line x1="326.5" y1="1656.5" x2="336.1" y2="1656.5" stroke-width="1.9"/>
<text x="325.5" y="1668.91" font-size="29" text-anchor="end">20</text>
<line x1="326.5" y1="1709.8" x2="336.1" y2="1709.8" stroke-width="1.9"/>
<text x="325.5" y="1722.21" font-size="29" text-anchor="end">15</text>
<line x1="326.5" y1="1763.3" x2="336.1" y2="1763.3" stroke-width="1.9"/>
<text x="325.5" y="1775.51" font-size="29" text-anchor="end">10</text>
<line x1="326.5" y1="1816.7" x2="336.1" y2="1816.7" stroke-width="1.9"/>
<text x="325.5" y="1830.31" font-size="29" text-anchor="end">5</text>
<line x1="326.5" y1="1869.8" x2="336.1" y2="1869.8" stroke-width="1.9"/>
<text x="325.5" y="1882.41" font-size="29" text-anchor="end">0</text>
<line x1="366.01" y1="1869.8" x2="366.01" y2="1878.3" stroke-width="1.9"/>
<line x1="366.01" y1="1858.04" x2="366.01" y2="1860.64" stroke-width="1.9"/>
<line x1="355.01" y1="1858.04" x2="377.01" y2="1858.04" stroke-width="1.9"/>
<line x1="355.01" y1="1860.64" x2="377.01" y2="1860.64" stroke-width="1.9"/>
<circle cx="351.37" cy="1859.53" r="5.4" fill="none" stroke-width="2.1"/>
<circle cx="360.64" cy="1858.41" r="5.4" fill="none" stroke-width="2.1"/>
<circle cx="370.64" cy="1859.53" r="5.4" fill="none" stroke-width="2.1"/>
<circle cx="380.65" cy="1859.53" r="5.4" fill="none" stroke-width="2.1"/>
<line x1="426.43" y1="1869.8" x2="426.43" y2="1878.3" stroke-width="1.9"/>
<line x1="426.43" y1="1854.71" x2="426.43" y2="1858.78" stroke-width="1.9"/>
<line x1="415.43" y1="1854.71" x2="437.43" y2="1854.71" stroke-width="1.9"/>
<line x1="415.43" y1="1858.78" x2="437.43" y2="1858.78" stroke-width="1.9"/>
<circle cx="411.42" cy="1857.67" r="5.4" fill="none" stroke-width="2.1"/>
<circle cx="421.42" cy="1853.97" r="5.4" fill="none" stroke-width="2.1"/>
<circle cx="431.06" cy="1857.67" r="5.4" fill="none" stroke-width="2.1"/>
<circle cx="441.07" cy="1855.08" r="5.4" fill="none" stroke-width="2.1"/>
<line x1="487.4" y1="1869.8" x2="487.4" y2="1878.3" stroke-width="1.9"/>
<line x1="487.4" y1="1646.4" x2="487.4" y2="1669.38" stroke-width="1.9"/>
<line x1="476.4" y1="1646.4" x2="498.4" y2="1646.4" stroke-width="1.9"/>
<line x1="476.4" y1="1669.38" x2="498.4" y2="1669.38" stroke-width="1.9"/>
<circle cx="472.57" cy="1640.85" r="5.4" fill="none" stroke-width="2.1"/>
<circle cx="487.4" cy="1646.4" r="5.4" fill="none" stroke-width="2.1"/>
<circle cx="502.22" cy="1644.55" r="5.4" fill="none" stroke-width="2.1"/>
<circle cx="487.4" cy="1695.7" r="5.4" fill="none" stroke-width="2.1"/>
<line x1="548" y1="1869.8" x2="548" y2="1878.3" stroke-width="1.9"/>
<line x1="548" y1="1848.41" x2="548" y2="1852.11" stroke-width="1.9"/>
<line x1="537" y1="1848.41" x2="559" y2="1848.41" stroke-width="1.9"/>
<line x1="537" y1="1852.11" x2="559" y2="1852.11" stroke-width="1.9"/>
<circle cx="532.99" cy="1852.11" r="5.4" fill="none" stroke-width="2.1"/>
<circle cx="542.99" cy="1847.66" r="5.4" fill="none" stroke-width="2.1"/>
<circle cx="553" cy="1850.26" r="5.4" fill="none" stroke-width="2.1"/>
<circle cx="562.64" cy="1847.66" r="5.4" fill="none" stroke-width="2.1"/>
<line x1="608.74" y1="1869.8" x2="608.74" y2="1878.3" stroke-width="1.9"/>
<line x1="608.74" y1="1697.55" x2="608.74" y2="1727.95" stroke-width="1.9"/>
<line x1="597.74" y1="1697.55" x2="619.74" y2="1697.55" stroke-width="1.9"/>
<line x1="597.74" y1="1727.95" x2="619.74" y2="1727.95" stroke-width="1.9"/>
<circle cx="608.18" cy="1678.65" r="5.4" fill="none" stroke-width="2.1"/>
<circle cx="608.18" cy="1702" r="5.4" fill="none" stroke-width="2.1"/>
<circle cx="608.18" cy="1723.13" r="5.4" fill="none" stroke-width="2.1"/>
<circle cx="608.18" cy="1748.33" r="5.4" fill="none" stroke-width="2.1"/>
<line x1="669.34" y1="1869.8" x2="669.34" y2="1878.3" stroke-width="1.9"/>
<line x1="669.34" y1="1734.62" x2="669.34" y2="1751.3" stroke-width="1.9"/>
<line x1="658.34" y1="1734.62" x2="680.34" y2="1734.62" stroke-width="1.9"/>
<line x1="658.34" y1="1751.3" x2="680.34" y2="1751.3" stroke-width="1.9"/>
<circle cx="654.51" cy="1732.39" r="5.4" fill="none" stroke-width="2.1"/>
<circle cx="670.08" cy="1739.07" r="5.4" fill="none" stroke-width="2.1"/>
<circle cx="684.17" cy="1737.21" r="5.4" fill="none" stroke-width="2.1"/>
<circle cx="669.34" cy="1765.01" r="5.4" fill="none" stroke-width="2.1"/>
<path d="M486.29 1632.32V1585.25H676.01V1604.52M486.29 1598.96H610.78V1618.24M486.29 1616.75H552.26V1664.2" fill="none" stroke-width="2.3" stroke-linejoin="miter"/>
<text x="631.53" y="1622.31" font-size="17.2" font-style="italic">p=0.0012</text>
<text x="581.5" y="1650.85" font-size="17.2" font-style="italic">p=0.031</text>
<text x="514.46" y="1685.32" font-size="17.2" font-style="italic">p&lt;0.0001</text>
<text x="239.5" y="1742" font-size="30" text-anchor="middle" transform="rotate(-90 239.5 1742)">Relative mRNA</text>
<text x="276.8" y="1742.8" font-size="30" text-anchor="middle" transform="rotate(-90 276.8 1742.8)">level (a.u.)</text>
<text x="341.5" y="1909.6" font-size="26" text-anchor="end">poly(I:C)</text>
<text x="341.5" y="1944.8" font-size="26" text-anchor="end">LS-102</text>
<text x="346" y="1978.1" font-size="26" text-anchor="end">Fludarabine</text>
<text x="363.97" y="1909.85" font-size="27.5" text-anchor="middle">-</text>
<text x="424.39" y="1910.96" font-size="27.5" text-anchor="middle">-</text>
<text x="482.95" y="1914.7" font-size="27.5" text-anchor="middle">+</text>
<text x="544.11" y="1915.81" font-size="27.5" text-anchor="middle">+</text>
<text x="607.07" y="1916.93" font-size="27.5" text-anchor="middle">+</text>
<text x="667.49" y="1918.04" font-size="27.5" text-anchor="middle">+</text>
<text x="363.97" y="1945.43" font-size="27.5" text-anchor="middle">-</text>
<text x="424.39" y="1948.73" font-size="27.5" text-anchor="middle">+</text>
<text x="482.95" y="1946.77" font-size="27.5" text-anchor="middle">-</text>
<text x="544.11" y="1950.06" font-size="27.5" text-anchor="middle">+</text>
<text x="607.07" y="1948.1" font-size="27.5" text-anchor="middle">-</text>
<text x="667.49" y="1948.77" font-size="27.5" text-anchor="middle">-</text>
<text x="363.97" y="1979.16" font-size="27.5" text-anchor="middle">-</text>
<text x="424.39" y="1979.65" font-size="27.5" text-anchor="middle">-</text>
<text x="482.95" y="1980.15" font-size="27.5" text-anchor="middle">-</text>
<text x="544.11" y="1980.64" font-size="27.5" text-anchor="middle">-</text>
<text x="606.33" y="1981.8" font-size="25.5" text-anchor="middle">50</text>
<text x="670.08" y="1981.8" font-size="25.5" text-anchor="middle">100</text>
<text x="694.54" y="1981.5" font-size="25.5">(µM)</text>
<text x="810.5" y="1569.3" font-size="30" font-style="italic">Irf2</text>
<path d="M794.64 1870V1782.45H832.78V1870" fill="#fff" stroke-width="3" stroke-linejoin="miter"/>
<path d="M855.79 1870V1792.83H893.93V1870" fill="#fff" stroke-width="3" stroke-linejoin="miter"/>
<path d="M916.95 1870V1655.69H954.35V1870" fill="#fff" stroke-width="3" stroke-linejoin="miter"/>
<path d="M977.36 1870V1768.73H1015.51V1870" fill="#fff" stroke-width="3" stroke-linejoin="miter"/>
<path d="M1038.52 1870V1723.15H1075.92V1870" fill="#fff" stroke-width="3" stroke-linejoin="miter"/>
<path d="M1098.94 1870V1714.99H1136.71V1870" fill="#fff" stroke-width="3" stroke-linejoin="miter"/>
<line x1="783.4" y1="1602.35" x2="783.4" y2="1870.95" stroke-width="1.9"/>
<line x1="774.4" y1="1870" x2="1147.5" y2="1870" stroke-width="1.9"/>
<line x1="774.4" y1="1603.3" x2="783.4" y2="1603.3" stroke-width="1.9"/>
<text x="771.3" y="1616.41" font-size="29" text-anchor="end">3</text>
<line x1="774.4" y1="1692.1" x2="783.4" y2="1692.1" stroke-width="1.9"/>
<text x="771.3" y="1703.91" font-size="29" text-anchor="end">2</text>
<line x1="774.4" y1="1781.2" x2="783.4" y2="1781.2" stroke-width="1.9"/>
<text x="771.3" y="1792.71" font-size="29" text-anchor="end">1</text>
<line x1="774.4" y1="1870" x2="783.4" y2="1870" stroke-width="1.9"/>
<text x="771.3" y="1881.41" font-size="29" text-anchor="end">0</text>
<line x1="813.71" y1="1870" x2="813.71" y2="1878.5" stroke-width="1.9"/>
<line x1="813.71" y1="1777.24" x2="813.71" y2="1784.66" stroke-width="1.9"/>
<line x1="802.71" y1="1777.24" x2="824.71" y2="1777.24" stroke-width="1.9"/>
<line x1="802.71" y1="1784.66" x2="824.71" y2="1784.66" stroke-width="1.9"/>
<circle cx="799.81" cy="1789.1" r="5.4" fill="none" stroke-width="2.1"/>
<circle cx="813.89" cy="1780.58" r="5.4" fill="none" stroke-width="2.1"/>
<circle cx="828.72" cy="1772.42" r="5.4" fill="none" stroke-width="2.1"/>
<circle cx="828.72" cy="1785.4" r="5.4" fill="none" stroke-width="2.1"/>
<line x1="874.86" y1="1870" x2="874.86" y2="1878.5" stroke-width="1.9"/>
<line x1="874.86" y1="1781.69" x2="874.86" y2="1802.08" stroke-width="1.9"/>
<line x1="863.86" y1="1781.69" x2="885.86" y2="1781.69" stroke-width="1.9"/>
<line x1="863.86" y1="1802.08" x2="885.86" y2="1802.08" stroke-width="1.9"/>
<circle cx="874.31" cy="1768.72" r="5.4" fill="none" stroke-width="2.1"/>
<circle cx="874.31" cy="1781.69" r="5.4" fill="none" stroke-width="2.1"/>
<circle cx="860.22" cy="1811.34" r="5.4" fill="none" stroke-width="2.1"/>
<circle cx="889.87" cy="1806.89" r="5.4" fill="none" stroke-width="2.1"/>
<line x1="935.65" y1="1870" x2="935.65" y2="1878.5" stroke-width="1.9"/>
<line x1="935.65" y1="1637.88" x2="935.65" y2="1670.5" stroke-width="1.9"/>
<line x1="924.65" y1="1637.88" x2="946.65" y2="1637.88" stroke-width="1.9"/>
<line x1="924.65" y1="1670.5" x2="946.65" y2="1670.5" stroke-width="1.9"/>
<circle cx="921.38" cy="1635.29" r="5.4" fill="none" stroke-width="2.1"/>
<circle cx="949.92" cy="1630.47" r="5.4" fill="none" stroke-width="2.1"/>
<circle cx="935.46" cy="1650.11" r="5.4" fill="none" stroke-width="2.1"/>
<circle cx="935.46" cy="1702" r="5.4" fill="none" stroke-width="2.1"/>
<line x1="996.43" y1="1870" x2="996.43" y2="1878.5" stroke-width="1.9"/>
<line x1="996.43" y1="1755.74" x2="996.43" y2="1779.1" stroke-width="1.9"/>
<line x1="985.43" y1="1755.74" x2="1007.43" y2="1755.74" stroke-width="1.9"/>
<line x1="985.43" y1="1779.1" x2="1007.43" y2="1779.1" stroke-width="1.9"/>
<circle cx="996.25" cy="1737.21" r="5.4" fill="none" stroke-width="2.1"/>
<circle cx="996.25" cy="1763.16" r="5.4" fill="none" stroke-width="2.1"/>
<circle cx="981.42" cy="1787.25" r="5.4" fill="none" stroke-width="2.1"/>
<circle cx="1011.07" cy="1784.66" r="5.4" fill="none" stroke-width="2.1"/>
<line x1="1057.22" y1="1870" x2="1057.22" y2="1878.5" stroke-width="1.9"/>
<line x1="1057.22" y1="1708.3" x2="1057.22" y2="1736.47" stroke-width="1.9"/>
<line x1="1046.22" y1="1708.3" x2="1068.22" y2="1708.3" stroke-width="1.9"/>
<line x1="1046.22" y1="1736.47" x2="1068.22" y2="1736.47" stroke-width="1.9"/>
<circle cx="1041.84" cy="1705.71" r="5.4" fill="none" stroke-width="2.1"/>
<circle cx="1071.49" cy="1696.44" r="5.4" fill="none" stroke-width="2.1"/>
<circle cx="1057.41" cy="1723.5" r="5.4" fill="none" stroke-width="2.1"/>
<circle cx="1057.41" cy="1761.3" r="5.4" fill="none" stroke-width="2.1"/>
<line x1="1117.82" y1="1870" x2="1117.82" y2="1878.5" stroke-width="1.9"/>
<line x1="1117.82" y1="1707.56" x2="1117.82" y2="1719.79" stroke-width="1.9"/>
<line x1="1106.82" y1="1707.56" x2="1128.82" y2="1707.56" stroke-width="1.9"/>
<line x1="1106.82" y1="1719.79" x2="1128.82" y2="1719.79" stroke-width="1.9"/>
<circle cx="1117.82" cy="1695.33" r="5.4" fill="none" stroke-width="2.1"/>
<circle cx="1103.74" cy="1713.86" r="5.4" fill="none" stroke-width="2.1"/>
<circle cx="1132.65" cy="1721.28" r="5.4" fill="none" stroke-width="2.1"/>
<circle cx="1103.74" cy="1725.35" r="5.4" fill="none" stroke-width="2.1"/>
<path d="M935.09 1627.87V1580.8H1124.49V1600.07M935.09 1595.26H1059.63V1623.42M935.09 1612.31H1000.33V1656.78" fill="none" stroke-width="2.3" stroke-linejoin="miter"/>
<text x="1087.43" y="1618.61" font-size="17.2" font-style="italic">p=0.0144</text>
<text x="1020.34" y="1650.11" font-size="17.2" font-style="italic">p=0.0201</text>
<text x="964.74" y="1685.32" font-size="17.2" font-style="italic">p=0.0012</text>
<text x="813.89" y="1909.48" font-size="27.5" text-anchor="middle">-</text>
<text x="874.31" y="1910.59" font-size="27.5" text-anchor="middle">-</text>
<text x="933.61" y="1914.33" font-size="27.5" text-anchor="middle">+</text>
<text x="994.77" y="1915.44" font-size="27.5" text-anchor="middle">+</text>
<text x="1056.66" y="1916.55" font-size="27.5" text-anchor="middle">+</text>
<text x="1117.08" y="1917.67" font-size="27.5" text-anchor="middle">+</text>
<text x="813.89" y="1945.06" font-size="27.5" text-anchor="middle">-</text>
<text x="874.31" y="1948.36" font-size="27.5" text-anchor="middle">+</text>
<text x="933.61" y="1946.39" font-size="27.5" text-anchor="middle">-</text>
<text x="994.77" y="1949.69" font-size="27.5" text-anchor="middle">+</text>
<text x="1056.66" y="1947.73" font-size="27.5" text-anchor="middle">-</text>
<text x="1117.08" y="1948.4" font-size="27.5" text-anchor="middle">-</text>
<text x="813.89" y="1978.79" font-size="27.5" text-anchor="middle">-</text>
<text x="874.31" y="1979.28" font-size="27.5" text-anchor="middle">-</text>
<text x="933.61" y="1979.78" font-size="27.5" text-anchor="middle">-</text>
<text x="994.77" y="1980.27" font-size="27.5" text-anchor="middle">-</text>
<text x="1057.41" y="1981.8" font-size="25.5" text-anchor="middle">50</text>
<text x="1120.04" y="1981.8" font-size="25.5" text-anchor="middle">100</text>
<text x="1144.88" y="1981.5" font-size="25.5">(µM)</text>
<text x="1257" y="1572.3" font-size="30" font-style="italic">Tlr3</text>
<path d="M1229.82 1870.3V1839.16H1267.22V1870.3" fill="#fff" stroke-width="3" stroke-linejoin="miter"/>
<path d="M1290.23 1870.3V1841.01H1328.37V1870.3" fill="#fff" stroke-width="3" stroke-linejoin="miter"/>
<path d="M1351.39 1870.3V1702.02H1389.53V1870.3" fill="#fff" stroke-width="3" stroke-linejoin="miter"/>
<path d="M1411.8 1870.3V1849.16H1449.95V1870.3" fill="#fff" stroke-width="3" stroke-linejoin="miter"/>
<path d="M1472.96 1870.3V1821.37H1510.73V1870.3" fill="#fff" stroke-width="3" stroke-linejoin="miter"/>
<path d="M1533.75 1870.3V1841.75H1571.15V1870.3" fill="#fff" stroke-width="3" stroke-linejoin="miter"/>
<line x1="1218.4" y1="1602.95" x2="1218.4" y2="1871.25" stroke-width="1.9"/>
<line x1="1209.8" y1="1870.3" x2="1583" y2="1870.3" stroke-width="1.9"/>
<line x1="1209.8" y1="1603.9" x2="1218.4" y2="1603.9" stroke-width="1.9"/>
<text x="1206.4" y="1617.61" font-size="29" text-anchor="end">8</text>
<line x1="1209.8" y1="1670.6" x2="1218.4" y2="1670.6" stroke-width="1.9"/>
<text x="1206.4" y="1684.11" font-size="29" text-anchor="end">6</text>
<line x1="1209.8" y1="1737.2" x2="1218.4" y2="1737.2" stroke-width="1.9"/>
<text x="1206.4" y="1749.41" font-size="29" text-anchor="end">4</text>
<line x1="1209.8" y1="1803.7" x2="1218.4" y2="1803.7" stroke-width="1.9"/>
<text x="1206.4" y="1816.91" font-size="29" text-anchor="end">2</text>
<line x1="1209.8" y1="1870.3" x2="1218.4" y2="1870.3" stroke-width="1.9"/>
<text x="1206.4" y="1882.31" font-size="29" text-anchor="end">0</text>
<line x1="1248.52" y1="1870.3" x2="1248.52" y2="1878.8" stroke-width="1.9"/>
<line x1="1248.52" y1="1835.43" x2="1248.52" y2="1840.25" stroke-width="1.9"/>
<line x1="1237.52" y1="1835.43" x2="1259.52" y2="1835.43" stroke-width="1.9"/>
<line x1="1237.52" y1="1840.25" x2="1259.52" y2="1840.25" stroke-width="1.9"/>
<circle cx="1234.25" cy="1840.99" r="5.4" fill="none" stroke-width="2.1"/>
<circle cx="1244.26" cy="1831.73" r="5.4" fill="none" stroke-width="2.1"/>
<circle cx="1253.89" cy="1839.14" r="5.4" fill="none" stroke-width="2.1"/>
<circle cx="1263.16" cy="1837.29" r="5.4" fill="none" stroke-width="2.1"/>
<line x1="1309.3" y1="1870.3" x2="1309.3" y2="1878.8" stroke-width="1.9"/>
<line x1="1309.3" y1="1836.55" x2="1309.3" y2="1842.85" stroke-width="1.9"/>
<line x1="1298.3" y1="1836.55" x2="1320.3" y2="1836.55" stroke-width="1.9"/>
<line x1="1298.3" y1="1842.85" x2="1320.3" y2="1842.85" stroke-width="1.9"/>
<circle cx="1294.66" cy="1834.69" r="5.4" fill="none" stroke-width="2.1"/>
<circle cx="1323.94" cy="1831.73" r="5.4" fill="none" stroke-width="2.1"/>
<circle cx="1295.4" cy="1847.29" r="5.4" fill="none" stroke-width="2.1"/>
<circle cx="1323.2" cy="1844.7" r="5.4" fill="none" stroke-width="2.1"/>
<line x1="1370.46" y1="1870.3" x2="1370.46" y2="1878.8" stroke-width="1.9"/>
<line x1="1370.46" y1="1690.88" x2="1370.46" y2="1710.53" stroke-width="1.9"/>
<line x1="1359.46" y1="1690.88" x2="1381.46" y2="1690.88" stroke-width="1.9"/>
<line x1="1359.46" y1="1710.53" x2="1381.46" y2="1710.53" stroke-width="1.9"/>
<circle cx="1370.28" cy="1677.17" r="5.4" fill="none" stroke-width="2.1"/>
<circle cx="1370.28" cy="1692.74" r="5.4" fill="none" stroke-width="2.1"/>
<circle cx="1355.82" cy="1716.83" r="5.4" fill="none" stroke-width="2.1"/>
<circle cx="1385.1" cy="1715.72" r="5.4" fill="none" stroke-width="2.1"/>
<line x1="1430.88" y1="1870.3" x2="1430.88" y2="1878.8" stroke-width="1.9"/>
<line x1="1430.88" y1="1844.7" x2="1430.88" y2="1851.37" stroke-width="1.9"/>
<line x1="1419.88" y1="1844.7" x2="1441.88" y2="1844.7" stroke-width="1.9"/>
<line x1="1419.88" y1="1851.37" x2="1441.88" y2="1851.37" stroke-width="1.9"/>
<circle cx="1415.86" cy="1852.11" r="5.4" fill="none" stroke-width="2.1"/>
<circle cx="1430.69" cy="1848.41" r="5.4" fill="none" stroke-width="2.1"/>
<circle cx="1445.52" cy="1838.03" r="5.4" fill="none" stroke-width="2.1"/>
<circle cx="1444.77" cy="1850.26" r="5.4" fill="none" stroke-width="2.1"/>
<line x1="1491.85" y1="1870.3" x2="1491.85" y2="1878.8" stroke-width="1.9"/>
<line x1="1491.85" y1="1815.79" x2="1491.85" y2="1824.31" stroke-width="1.9"/>
<line x1="1480.85" y1="1815.79" x2="1502.85" y2="1815.79" stroke-width="1.9"/>
<line x1="1480.85" y1="1824.31" x2="1502.85" y2="1824.31" stroke-width="1.9"/>
<circle cx="1477.02" cy="1813.19" r="5.4" fill="none" stroke-width="2.1"/>
<circle cx="1491.85" cy="1818.01" r="5.4" fill="none" stroke-width="2.1"/>
<circle cx="1506.67" cy="1815.05" r="5.4" fill="none" stroke-width="2.1"/>
<circle cx="1491.85" cy="1834.69" r="5.4" fill="none" stroke-width="2.1"/>
<line x1="1552.45" y1="1870.3" x2="1552.45" y2="1878.8" stroke-width="1.9"/>
<line x1="1552.45" y1="1838.03" x2="1552.45" y2="1842.85" stroke-width="1.9"/>
<line x1="1541.45" y1="1838.03" x2="1563.45" y2="1838.03" stroke-width="1.9"/>
<line x1="1541.45" y1="1842.85" x2="1563.45" y2="1842.85" stroke-width="1.9"/>
<circle cx="1537.44" cy="1846.55" r="5.4" fill="none" stroke-width="2.1"/>
<circle cx="1547.44" cy="1836.55" r="5.4" fill="none" stroke-width="2.1"/>
<circle cx="1557.45" cy="1839.14" r="5.4" fill="none" stroke-width="2.1"/>
<circle cx="1567.09" cy="1839.14" r="5.4" fill="none" stroke-width="2.1"/>
<path d="M1370.28 1646.4V1599.33H1559.67V1618.61M1370.28 1613.05H1494.81V1641.96M1370.28 1630.47H1435.51V1676.06" fill="none" stroke-width="2.3" stroke-linejoin="miter"/>
<text x="1530.02" y="1646.4" font-size="17.2" font-style="italic">p&lt;0.0001</text>
<text x="1464.05" y="1678.65" font-size="17.2" font-style="italic">p&lt;0.0001</text>
<text x="1401.04" y="1713.86" font-size="17.2" font-style="italic">p&lt;0.0001</text>
<text x="1247.96" y="1908.74" font-size="27.5" text-anchor="middle">-</text>
<text x="1308.38" y="1909.85" font-size="27.5" text-anchor="middle">-</text>
<text x="1367.68" y="1913.59" font-size="27.5" text-anchor="middle">+</text>
<text x="1429.58" y="1914.7" font-size="27.5" text-anchor="middle">+</text>
<text x="1491.85" y="1915.81" font-size="27.5" text-anchor="middle">+</text>
<text x="1553" y="1916.93" font-size="27.5" text-anchor="middle">+</text>
<text x="1247.96" y="1943.95" font-size="27.5" text-anchor="middle">-</text>
<text x="1308.38" y="1947.32" font-size="27.5" text-anchor="middle">+</text>
<text x="1367.68" y="1945.43" font-size="27.5" text-anchor="middle">-</text>
<text x="1429.58" y="1948.8" font-size="27.5" text-anchor="middle">+</text>
<text x="1491.85" y="1946.91" font-size="27.5" text-anchor="middle">-</text>
<text x="1553" y="1947.65" font-size="27.5" text-anchor="middle">-</text>
<text x="1247.96" y="1977.31" font-size="27.5" text-anchor="middle">-</text>
<text x="1308.38" y="1977.92" font-size="27.5" text-anchor="middle">-</text>
<text x="1367.68" y="1978.54" font-size="27.5" text-anchor="middle">-</text>
<text x="1429.58" y="1979.16" font-size="27.5" text-anchor="middle">-</text>
<text x="1490.73" y="1981" font-size="25.5" text-anchor="middle">50</text>
<text x="1554.11" y="1981" font-size="25.5" text-anchor="middle">100</text>
<text x="1579.32" y="1980.7" font-size="25.5">(µM)</text>
<text x="12" y="2062.5" font-size="34" font-weight="bold" stroke="none">k</text>
<text x="179.3" y="2127" font-size="26" text-anchor="end">poly(I:C)</text>
<text x="175.2" y="2170.8" font-size="26" text-anchor="end">LS-102</text>
<text x="177" y="2209.5" font-size="26" text-anchor="end">IFNβ</text>
<text x="314.08" y="2131.48" font-size="27.5" text-anchor="middle">+</text>
<text x="367.69" y="2132.17" font-size="27.5" text-anchor="middle">+</text>
<text x="422" y="2132.87" font-size="27.5" text-anchor="middle">+</text>
<text x="257" y="2171.95" font-size="27.5" text-anchor="middle">+</text>
<text x="367.69" y="2174.37" font-size="27.5" text-anchor="middle">+</text>
<text x="421.31" y="2176.45" font-size="27.5" text-anchor="middle">+</text>
<text x="421.31" y="2211.73" font-size="27.5" text-anchor="middle">+</text>
<text x="472" y="2216.4" font-size="25.5">kDa</text>
<rect x="188.5" y="2229.2" width="260.1" height="54.7" fill="#fdfdfd" stroke="none"/>
<g clip-path="url(#c14)" stroke="none">
<g filter="url(#f14_28)">
<path d="M303 2251.3Q316.5 2249.3 330 2251.3" fill="none" stroke="#000" stroke-width="10" stroke-linecap="round" opacity="1"/>
<path d="M303 2267.3Q316.5 2265.3 330 2267.3" fill="none" stroke="#000" stroke-width="8" stroke-linecap="round" opacity="1"/>
<rect x="301.5" y="2254.5" width="30" height="8" rx="3" ry="3" fill="#000" opacity="0.25"/>
<path d="M403.54 2251Q418.54 2249 433.54 2251" fill="none" stroke="#000" stroke-width="9" stroke-linecap="round" opacity="1"/>
<path d="M403.04 2266.5Q418.54 2264.5 434.04 2266.5" fill="none" stroke="#000" stroke-width="6" stroke-linecap="round" opacity="0.85"/>
<rect x="403.54" y="2254.5" width="30" height="8" rx="3" ry="3" fill="#000" opacity="0.2"/>
</g>
</g>
<rect x="189.4" y="2230.1" width="258.3" height="52.9" fill="none" stroke="#0a0a0a" stroke-width="1.8"/>
<rect x="188.5" y="2295.3" width="260.1" height="48.1" fill="#fdfdfd" stroke="none"/>
<g clip-path="url(#c15)" stroke="none">
<g filter="url(#f15_30)">
<rect x="193.73" y="2312.8" width="38" height="7" rx="3" ry="3" fill="#000" opacity="1"/>
<rect x="193.73" y="2322" width="38" height="7" rx="3" ry="3" fill="#000" opacity="1"/>
<rect x="194.73" y="2317.5" width="36" height="7" rx="3" ry="3" fill="#000" opacity="0.5"/>
<rect x="242.85" y="2312.8" width="38" height="7" rx="3" ry="3" fill="#000" opacity="1"/>
<rect x="242.85" y="2322" width="38" height="7" rx="3" ry="3" fill="#000" opacity="1"/>
<rect x="243.85" y="2317.5" width="36" height="7" rx="3" ry="3" fill="#000" opacity="0.5"/>
<rect x="292.31" y="2312.8" width="38" height="7" rx="3" ry="3" fill="#000" opacity="0.92"/>
<rect x="292.31" y="2322" width="38" height="7" rx="3" ry="3" fill="#000" opacity="0.92"/>
<rect x="293.31" y="2317.5" width="36" height="7" rx="3" ry="3" fill="#000" opacity="0.5"/>
<rect x="343.5" y="2312.8" width="38" height="7" rx="3" ry="3" fill="#000" opacity="0.82"/>
<rect x="343.5" y="2322" width="38" height="7" rx="3" ry="3" fill="#000" opacity="0.82"/>
<rect x="344.5" y="2317.5" width="36" height="7" rx="3" ry="3" fill="#000" opacity="0.5"/>
<rect x="399.54" y="2312.8" width="38" height="7" rx="3" ry="3" fill="#000" opacity="0.9"/>
<rect x="399.54" y="2322" width="38" height="7" rx="3" ry="3" fill="#000" opacity="0.9"/>
<rect x="400.54" y="2317.5" width="36" height="7" rx="3" ry="3" fill="#000" opacity="0.5"/>
</g>
</g>
<rect x="189.4" y="2296.2" width="258.3" height="46.3" fill="none" stroke="#0a0a0a" stroke-width="1.8"/>
<rect x="188.5" y="2372" width="260.1" height="41.6" fill="#fdfdfd" stroke="none"/>
<g clip-path="url(#c16)" stroke="none">
<g filter="url(#f16_32)">
<path d="M196.23 2391.9Q212.73 2393.5 229.23 2391.9" fill="none" stroke="#000" stroke-width="10" stroke-linecap="round" opacity="1"/>
<path d="M245.35 2391.9Q261.85 2393.5 278.35 2391.9" fill="none" stroke="#000" stroke-width="10" stroke-linecap="round" opacity="1"/>
<path d="M294.81 2391.9Q311.31 2393.5 327.81 2391.9" fill="none" stroke="#000" stroke-width="10" stroke-linecap="round" opacity="1"/>
<path d="M346 2391.9Q362.5 2393.5 379 2391.9" fill="none" stroke="#000" stroke-width="10" stroke-linecap="round" opacity="1"/>
<path d="M402.04 2391.9Q418.54 2393.5 435.04 2391.9" fill="none" stroke="#000" stroke-width="10" stroke-linecap="round" opacity="1"/>
</g>
</g>
<rect x="189.4" y="2372.9" width="258.3" height="39.8" fill="none" stroke="#0a0a0a" stroke-width="1.8"/>
<text x="172.5" y="2269.3" font-size="29.3" text-anchor="end">p-STAT1</text>
<text x="171.8" y="2329.9" font-size="29.3" text-anchor="end">STAT1</text>
<text x="173.5" y="2398.7" font-size="30.2" text-anchor="end">β-actin</text>
<line x1="448.6" y1="2245.1" x2="462" y2="2245.1" stroke-width="1.7"/>
<text x="466" y="2256.2" font-size="29.3">100</text>
<line x1="448.6" y1="2311.5" x2="462" y2="2311.5" stroke-width="1.7"/>
<text x="467.5" y="2322.6" font-size="29.3">100</text>
<line x1="448.6" y1="2402.5" x2="462" y2="2402.5" stroke-width="1.7"/>
<text x="467.5" y="2412.9" font-size="29.3">40</text>
<text x="143" y="2365.1" font-size="23" font-style="italic">p/t</text>
<text x="318.23" y="2365.1" font-size="24" text-anchor="middle">1.0</text>
<text x="420.96" y="2365.1" font-size="24" text-anchor="middle">0.8</text>
<text x="569" y="2082.6" font-size="34" font-weight="bold" stroke="none">l</text>
<text x="764.5" y="2102.3" font-size="30" font-style="italic">Irf1</text>
<path d="M741.21 2359.4V2347.98H777.23V2359.4" fill="#fff" stroke-width="2.9" stroke-linejoin="miter"/>
<path d="M798.29 2359.4V2348.72H833.2V2359.4" fill="#fff" stroke-width="2.9" stroke-linejoin="miter"/>
<path d="M854.26 2359.4V2165.25H888.79V2359.4" fill="#fff" stroke-width="2.9" stroke-linejoin="miter"/>
<path d="M910.6 2359.4V2349.46H945.87V2359.4" fill="#fff" stroke-width="2.9" stroke-linejoin="miter"/>
<path d="M966.94 2359.4V2302.39H1001.84V2359.4" fill="#fff" stroke-width="2.9" stroke-linejoin="miter"/>
<line x1="730.8" y1="2118.05" x2="730.8" y2="2360.35" stroke-width="1.9"/>
<line x1="724.5" y1="2359.4" x2="1012.5" y2="2359.4" stroke-width="1.9"/>
<line x1="724.5" y1="2119" x2="730.8" y2="2119" stroke-width="1.9"/>
<text x="721.3" y="2132.61" font-size="29" text-anchor="end">20</text>
<line x1="724.5" y1="2178.9" x2="730.8" y2="2178.9" stroke-width="1.9"/>
<text x="721.3" y="2190.91" font-size="29" text-anchor="end">15</text>
<line x1="724.5" y1="2239.1" x2="730.8" y2="2239.1" stroke-width="1.9"/>
<text x="721.3" y="2252.11" font-size="29" text-anchor="end">10</text>
<line x1="724.5" y1="2299.3" x2="730.8" y2="2299.3" stroke-width="1.9"/>
<text x="721.3" y="2314.31" font-size="29" text-anchor="end">5</text>
<line x1="724.5" y1="2359.4" x2="730.8" y2="2359.4" stroke-width="1.9"/>
<text x="721.3" y="2372.61" font-size="29" text-anchor="end">0</text>
<line x1="759.22" y1="2359.4" x2="759.22" y2="2367.9" stroke-width="1.9"/>
<line x1="759.22" y1="2346.9" x2="759.22" y2="2349.5" stroke-width="1.9"/>
<line x1="748.22" y1="2346.9" x2="770.22" y2="2346.9" stroke-width="1.9"/>
<line x1="748.22" y1="2349.5" x2="770.22" y2="2349.5" stroke-width="1.9"/>
<circle cx="744.58" cy="2348.01" r="5.1" fill="none" stroke-width="1.9"/>
<circle cx="753.85" cy="2346.16" r="5.1" fill="none" stroke-width="1.9"/>
<circle cx="763.85" cy="2348.01" r="5.1" fill="none" stroke-width="1.9"/>
<circle cx="773.12" cy="2348.01" r="5.1" fill="none" stroke-width="1.9"/>
<line x1="815.74" y1="2359.4" x2="815.74" y2="2367.9" stroke-width="1.9"/>
<line x1="815.74" y1="2346.9" x2="815.74" y2="2349.13" stroke-width="1.9"/>
<line x1="804.74" y1="2346.9" x2="826.74" y2="2346.9" stroke-width="1.9"/>
<line x1="804.74" y1="2349.13" x2="826.74" y2="2349.13" stroke-width="1.9"/>
<circle cx="801.66" cy="2348.75" r="5.1" fill="none" stroke-width="1.9"/>
<circle cx="811.3" cy="2346.9" r="5.1" fill="none" stroke-width="1.9"/>
<circle cx="820.19" cy="2348.01" r="5.1" fill="none" stroke-width="1.9"/>
<circle cx="829.46" cy="2346.9" r="5.1" fill="none" stroke-width="1.9"/>
<line x1="871.53" y1="2359.4" x2="871.53" y2="2367.9" stroke-width="1.9"/>
<line x1="871.53" y1="2156.02" x2="871.53" y2="2172.7" stroke-width="1.9"/>
<line x1="860.53" y1="2156.02" x2="882.53" y2="2156.02" stroke-width="1.9"/>
<line x1="860.53" y1="2172.7" x2="882.53" y2="2172.7" stroke-width="1.9"/>
<circle cx="871.34" cy="2144.9" r="5.1" fill="none" stroke-width="1.9"/>
<circle cx="858.37" cy="2161.58" r="5.1" fill="none" stroke-width="1.9"/>
<circle cx="885.06" cy="2163.43" r="5.1" fill="none" stroke-width="1.9"/>
<circle cx="871.34" cy="2185.67" r="5.1" fill="none" stroke-width="1.9"/>
<line x1="928.24" y1="2359.4" x2="928.24" y2="2367.9" stroke-width="1.9"/>
<line x1="928.24" y1="2347.27" x2="928.24" y2="2349.87" stroke-width="1.9"/>
<line x1="917.24" y1="2347.27" x2="939.24" y2="2347.27" stroke-width="1.9"/>
<line x1="917.24" y1="2349.87" x2="939.24" y2="2349.87" stroke-width="1.9"/>
<circle cx="913.97" cy="2351.72" r="5.1" fill="none" stroke-width="1.9"/>
<circle cx="923.23" cy="2345.79" r="5.1" fill="none" stroke-width="1.9"/>
<circle cx="932.5" cy="2348.75" r="5.1" fill="none" stroke-width="1.9"/>
<circle cx="941.76" cy="2348.75" r="5.1" fill="none" stroke-width="1.9"/>
<line x1="984.39" y1="2359.4" x2="984.39" y2="2367.9" stroke-width="1.9"/>
<line x1="984.39" y1="2298.72" x2="984.39" y2="2303.17" stroke-width="1.9"/>
<line x1="973.39" y1="2298.72" x2="995.39" y2="2298.72" stroke-width="1.9"/>
<line x1="973.39" y1="2303.17" x2="995.39" y2="2303.17" stroke-width="1.9"/>
<circle cx="970.67" cy="2305.02" r="5.1" fill="none" stroke-width="1.9"/>
<circle cx="979.94" cy="2296.12" r="5.1" fill="none" stroke-width="1.9"/>
<circle cx="989.21" cy="2300.57" r="5.1" fill="none" stroke-width="1.9"/>
<circle cx="998.47" cy="2298.72" r="5.1" fill="none" stroke-width="1.9"/>
<path d="M872.45 2121.55V2113.4H921.38V2131.93" fill="none" stroke-width="2.3" stroke-linejoin="miter"/>
<path d="M923.23 2097.83V2089.3H976.98V2108.95" fill="none" stroke-width="2.3" stroke-linejoin="miter"/>
<text x="938.8" y="2128.22" font-size="17.2" font-style="italic">p&lt;0.0001</text>
<text x="899.14" y="2165.29" font-size="17.2" font-style="italic">p&lt;0.0001</text>
<text x="639.4" y="2245" font-size="30" text-anchor="middle" transform="rotate(-90 639.4 2245)">Relative mRNA</text>
<text x="676.4" y="2246" font-size="30" text-anchor="middle" transform="rotate(-90 676.4 2246)">level (a.u.)</text>
<text x="735.8" y="2401.8" font-size="26" text-anchor="end">LS-102</text>
<text x="732.8" y="2434" font-size="26" text-anchor="end">poly(I:C)</text>
<text x="735.5" y="2470" font-size="26" text-anchor="end">IFNβ</text>
<text x="760.15" y="2386.48" font-size="27.5" text-anchor="middle">-</text>
<text x="813.89" y="2389.66" font-size="27.5" text-anchor="middle">+</text>
<text x="871.34" y="2387.59" font-size="27.5" text-anchor="middle">-</text>
<text x="926.94" y="2390.77" font-size="27.5" text-anchor="middle">+</text>
<text x="984.39" y="2391.33" font-size="27.5" text-anchor="middle">+</text>
<text x="760.15" y="2417.24" font-size="27.5" text-anchor="middle">-</text>
<text x="813.89" y="2417.43" font-size="27.5" text-anchor="middle">-</text>
<text x="871.34" y="2420.24" font-size="27.5" text-anchor="middle">+</text>
<text x="926.94" y="2420.42" font-size="27.5" text-anchor="middle">+</text>
<text x="984.39" y="2420.61" font-size="27.5" text-anchor="middle">+</text>
<text x="760.15" y="2450.97" font-size="27.5" text-anchor="middle">-</text>
<text x="813.89" y="2451.25" font-size="27.5" text-anchor="middle">-</text>
<text x="871.34" y="2451.52" font-size="27.5" text-anchor="middle">-</text>
<text x="926.94" y="2451.8" font-size="27.5" text-anchor="middle">-</text>
<text x="984.39" y="2453.41" font-size="27.5" text-anchor="middle">+</text>
<text x="1104" y="2110.1" font-size="30" font-style="italic">Irf2</text>
<path d="M1078.86 2357.3V2311.5H1112.88V2357.3" fill="#fff" stroke-width="2.9" stroke-linejoin="miter"/>
<path d="M1134.69 2357.3V2311.5H1169.16V2357.3" fill="#fff" stroke-width="2.9" stroke-linejoin="miter"/>
<path d="M1191.42 2357.3V2207.05H1224.99V2357.3" fill="#fff" stroke-width="2.9" stroke-linejoin="miter"/>
<path d="M1246.8 2357.3V2288.99H1280.82V2357.3" fill="#fff" stroke-width="2.9" stroke-linejoin="miter"/>
<path d="M1302.63 2357.3V2185.43H1337.1V2357.3" fill="#fff" stroke-width="2.9" stroke-linejoin="miter"/>
<line x1="1068.7" y1="2116.75" x2="1068.7" y2="2358.25" stroke-width="1.9"/>
<line x1="1059.9" y1="2357.3" x2="1347.5" y2="2357.3" stroke-width="1.9"/>
<line x1="1059.9" y1="2117.7" x2="1068.7" y2="2117.7" stroke-width="1.9"/>
<text x="1054.7" y="2139.11" font-size="29" text-anchor="end">5</text>
<line x1="1059.9" y1="2165.7" x2="1068.7" y2="2165.7" stroke-width="1.9"/>
<text x="1054.7" y="2186.11" font-size="29" text-anchor="end">4</text>
<line x1="1059.9" y1="2213.7" x2="1068.7" y2="2213.7" stroke-width="1.9"/>
<text x="1054.7" y="2233.71" font-size="29" text-anchor="end">3</text>
<line x1="1059.9" y1="2261.5" x2="1068.7" y2="2261.5" stroke-width="1.9"/>
<text x="1054.7" y="2279.31" font-size="29" text-anchor="end">2</text>
<line x1="1059.9" y1="2309.3" x2="1068.7" y2="2309.3" stroke-width="1.9"/>
<text x="1054.7" y="2325.71" font-size="29" text-anchor="end">1</text>
<line x1="1059.9" y1="2357.3" x2="1068.7" y2="2357.3" stroke-width="1.9"/>
<text x="1054.7" y="2373.71" font-size="29" text-anchor="end">0</text>
<line x1="1095.87" y1="2357.3" x2="1095.87" y2="2365.8" stroke-width="1.9"/>
<line x1="1095.87" y1="2308.25" x2="1095.87" y2="2313.66" stroke-width="1.9"/>
<line x1="1084.87" y1="2308.25" x2="1106.87" y2="2308.25" stroke-width="1.9"/>
<line x1="1084.87" y1="2313.66" x2="1106.87" y2="2313.66" stroke-width="1.9"/>
<circle cx="1083.03" cy="2303.3" r="5.1" fill="none" stroke-width="1.9"/>
<circle cx="1096.54" cy="2304.65" r="5.1" fill="none" stroke-width="1.9"/>
<circle cx="1110.05" cy="2312.31" r="5.1" fill="none" stroke-width="1.9"/>
<circle cx="1083.03" cy="2317.26" r="5.1" fill="none" stroke-width="1.9"/>
<line x1="1151.92" y1="2357.3" x2="1151.92" y2="2365.8" stroke-width="1.9"/>
<line x1="1151.92" y1="2307.35" x2="1151.92" y2="2312.76" stroke-width="1.9"/>
<line x1="1140.92" y1="2307.35" x2="1162.92" y2="2307.35" stroke-width="1.9"/>
<line x1="1140.92" y1="2312.76" x2="1162.92" y2="2312.76" stroke-width="1.9"/>
<circle cx="1138.87" cy="2301.5" r="5.1" fill="none" stroke-width="1.9"/>
<circle cx="1138.87" cy="2318.16" r="5.1" fill="none" stroke-width="1.9"/>
<circle cx="1152.82" cy="2310.05" r="5.1" fill="none" stroke-width="1.9"/>
<circle cx="1165.43" cy="2309.15" r="5.1" fill="none" stroke-width="1.9"/>
<line x1="1208.2" y1="2357.3" x2="1208.2" y2="2365.8" stroke-width="1.9"/>
<line x1="1208.2" y1="2201.09" x2="1208.2" y2="2212.35" stroke-width="1.9"/>
<line x1="1197.2" y1="2201.09" x2="1219.2" y2="2201.09" stroke-width="1.9"/>
<line x1="1197.2" y1="2212.35" x2="1219.2" y2="2212.35" stroke-width="1.9"/>
<circle cx="1194.7" cy="2196.59" r="5.1" fill="none" stroke-width="1.9"/>
<circle cx="1208.2" cy="2202.44" r="5.1" fill="none" stroke-width="1.9"/>
<circle cx="1221.26" cy="2198.84" r="5.1" fill="none" stroke-width="1.9"/>
<circle cx="1208.2" cy="2224.96" r="5.1" fill="none" stroke-width="1.9"/>
<line x1="1263.81" y1="2357.3" x2="1263.81" y2="2365.8" stroke-width="1.9"/>
<line x1="1263.81" y1="2285.74" x2="1263.81" y2="2290.24" stroke-width="1.9"/>
<line x1="1252.81" y1="2285.74" x2="1274.81" y2="2285.74" stroke-width="1.9"/>
<line x1="1252.81" y1="2290.24" x2="1274.81" y2="2290.24" stroke-width="1.9"/>
<circle cx="1249.63" cy="2282.14" r="5.1" fill="none" stroke-width="1.9"/>
<circle cx="1264.03" cy="2284.39" r="5.1" fill="none" stroke-width="1.9"/>
<circle cx="1276.64" cy="2288.89" r="5.1" fill="none" stroke-width="1.9"/>
<circle cx="1249.63" cy="2293.39" r="5.1" fill="none" stroke-width="1.9"/>
<line x1="1319.86" y1="2357.3" x2="1319.86" y2="2365.8" stroke-width="1.9"/>
<line x1="1319.86" y1="2177.68" x2="1319.86" y2="2192.99" stroke-width="1.9"/>
<line x1="1308.86" y1="2177.68" x2="1330.86" y2="2177.68" stroke-width="1.9"/>
<line x1="1308.86" y1="2192.99" x2="1330.86" y2="2192.99" stroke-width="1.9"/>
<circle cx="1319.86" cy="2165.07" r="5.1" fill="none" stroke-width="1.9"/>
<circle cx="1305.91" cy="2190.74" r="5.1" fill="none" stroke-width="1.9"/>
<circle cx="1319.86" cy="2187.59" r="5.1" fill="none" stroke-width="1.9"/>
<circle cx="1332.92" cy="2190.74" r="5.1" fill="none" stroke-width="1.9"/>
<path d="M1212.71 2138.96V2131.31H1261.78V2150.67" fill="none" stroke-width="2.3" stroke-linejoin="miter"/>
<path d="M1263.13 2115.55V2107.89H1316.26V2125.9" fill="none" stroke-width="2.3" stroke-linejoin="miter"/>
<text x="1271.24" y="2141.21" font-size="17.2" font-style="italic">p&lt;0.0001</text>
<text x="1213.61" y="2178.58" font-size="17.2" font-style="italic">p&lt;0.0001</text>
<text x="1096.54" y="2386.72" font-size="27.5" text-anchor="middle">-</text>
<text x="1151.47" y="2389.91" font-size="27.5" text-anchor="middle">+</text>
<text x="1208.2" y="2387.85" font-size="27.5" text-anchor="middle">-</text>
<text x="1263.13" y="2391.04" font-size="27.5" text-anchor="middle">+</text>
<text x="1319.86" y="2391.6" font-size="27.5" text-anchor="middle">+</text>
<text x="1096.54" y="2417.79" font-size="27.5" text-anchor="middle">-</text>
<text x="1151.47" y="2418.01" font-size="27.5" text-anchor="middle">-</text>
<text x="1208.2" y="2420.87" font-size="27.5" text-anchor="middle">+</text>
<text x="1263.13" y="2421.09" font-size="27.5" text-anchor="middle">+</text>
<text x="1319.86" y="2421.32" font-size="27.5" text-anchor="middle">+</text>
<text x="1096.54" y="2451.56" font-size="27.5" text-anchor="middle">-</text>
<text x="1151.47" y="2451.78" font-size="27.5" text-anchor="middle">-</text>
<text x="1208.2" y="2452.01" font-size="27.5" text-anchor="middle">-</text>
<text x="1263.13" y="2452.23" font-size="27.5" text-anchor="middle">-</text>
<text x="1319.86" y="2453.79" font-size="27.5" text-anchor="middle">+</text>
<text x="1424.5" y="2110.1" font-size="30" font-style="italic">Tlr3</text>
<path d="M1410.69 2356.1V2316.91H1445.16V2356.1" fill="#fff" stroke-width="2.9" stroke-linejoin="miter"/>
<path d="M1466.07 2356.1V2317.36H1500.54V2356.1" fill="#fff" stroke-width="2.9" stroke-linejoin="miter"/>
<path d="M1521.45 2356.1V2173.28H1555.47V2356.1" fill="#fff" stroke-width="2.9" stroke-linejoin="miter"/>
<path d="M1576.38 2356.1V2341.67H1610.85V2356.1" fill="#fff" stroke-width="2.9" stroke-linejoin="miter"/>
<path d="M1631.76 2356.1V2196.69H1665.78V2356.1" fill="#fff" stroke-width="2.9" stroke-linejoin="miter"/>
<line x1="1400.6" y1="2118.05" x2="1400.6" y2="2357.05" stroke-width="1.9"/>
<line x1="1392.4" y1="2356.1" x2="1675" y2="2356.1" stroke-width="1.9"/>
<line x1="1392.4" y1="2119" x2="1400.6" y2="2119" stroke-width="1.9"/>
<text x="1389" y="2134.91" font-size="29" text-anchor="end">6</text>
<line x1="1392.4" y1="2197.9" x2="1400.6" y2="2197.9" stroke-width="1.9"/>
<text x="1389" y="2213.11" font-size="29" text-anchor="end">4</text>
<line x1="1392.4" y1="2277.3" x2="1400.6" y2="2277.3" stroke-width="1.9"/>
<text x="1389" y="2291.11" font-size="29" text-anchor="end">2</text>
<line x1="1392.4" y1="2356.1" x2="1400.6" y2="2356.1" stroke-width="1.9"/>
<text x="1389" y="2369.11" font-size="29" text-anchor="end">0</text>
<line x1="1427.92" y1="2356.1" x2="1427.92" y2="2364.6" stroke-width="1.9"/>
<line x1="1427.92" y1="2312.76" x2="1427.92" y2="2320.41" stroke-width="1.9"/>
<line x1="1416.92" y1="2312.76" x2="1438.92" y2="2312.76" stroke-width="1.9"/>
<line x1="1416.92" y1="2320.41" x2="1438.92" y2="2320.41" stroke-width="1.9"/>
<circle cx="1415.32" cy="2320.41" r="5.1" fill="none" stroke-width="1.9"/>
<circle cx="1427.47" cy="2315.91" r="5.1" fill="none" stroke-width="1.9"/>
<circle cx="1440.98" cy="2309.15" r="5.1" fill="none" stroke-width="1.9"/>
<circle cx="1440.98" cy="2321.31" r="5.1" fill="none" stroke-width="1.9"/>
<line x1="1483.3" y1="2356.1" x2="1483.3" y2="2364.6" stroke-width="1.9"/>
<line x1="1483.3" y1="2314.56" x2="1483.3" y2="2319.06" stroke-width="1.9"/>
<line x1="1472.3" y1="2314.56" x2="1494.3" y2="2314.56" stroke-width="1.9"/>
<line x1="1472.3" y1="2319.06" x2="1494.3" y2="2319.06" stroke-width="1.9"/>
<circle cx="1470.25" cy="2319.51" r="5.1" fill="none" stroke-width="1.9"/>
<circle cx="1478.35" cy="2314.56" r="5.1" fill="none" stroke-width="1.9"/>
<circle cx="1488.26" cy="2319.51" r="5.1" fill="none" stroke-width="1.9"/>
<circle cx="1496.36" cy="2314.56" r="5.1" fill="none" stroke-width="1.9"/>
<line x1="1538.46" y1="2356.1" x2="1538.46" y2="2364.6" stroke-width="1.9"/>
<line x1="1538.46" y1="2163.72" x2="1538.46" y2="2183.08" stroke-width="1.9"/>
<line x1="1527.46" y1="2163.72" x2="1549.46" y2="2163.72" stroke-width="1.9"/>
<line x1="1527.46" y1="2183.08" x2="1549.46" y2="2183.08" stroke-width="1.9"/>
<circle cx="1538.69" cy="2151.57" r="5.1" fill="none" stroke-width="1.9"/>
<circle cx="1526.53" cy="2172.73" r="5.1" fill="none" stroke-width="1.9"/>
<circle cx="1551.29" cy="2174.08" r="5.1" fill="none" stroke-width="1.9"/>
<circle cx="1538.69" cy="2196.59" r="5.1" fill="none" stroke-width="1.9"/>
<line x1="1593.62" y1="2356.1" x2="1593.62" y2="2364.6" stroke-width="1.9"/>
<line x1="1593.62" y1="2339.32" x2="1593.62" y2="2342.92" stroke-width="1.9"/>
<line x1="1582.62" y1="2339.32" x2="1604.62" y2="2339.32" stroke-width="1.9"/>
<line x1="1582.62" y1="2342.92" x2="1604.62" y2="2342.92" stroke-width="1.9"/>
<circle cx="1580.56" cy="2343.82" r="5.1" fill="none" stroke-width="1.9"/>
<circle cx="1588.21" cy="2339.32" r="5.1" fill="none" stroke-width="1.9"/>
<circle cx="1597.22" cy="2341.57" r="5.1" fill="none" stroke-width="1.9"/>
<circle cx="1606.22" cy="2340.67" r="5.1" fill="none" stroke-width="1.9"/>
<line x1="1648.77" y1="2356.1" x2="1648.77" y2="2364.6" stroke-width="1.9"/>
<line x1="1648.77" y1="2188.94" x2="1648.77" y2="2203.35" stroke-width="1.9"/>
<line x1="1637.77" y1="2188.94" x2="1659.77" y2="2188.94" stroke-width="1.9"/>
<line x1="1637.77" y1="2203.35" x2="1659.77" y2="2203.35" stroke-width="1.9"/>
<circle cx="1649" cy="2177.68" r="5.1" fill="none" stroke-width="1.9"/>
<circle cx="1635.49" cy="2202.44" r="5.1" fill="none" stroke-width="1.9"/>
<circle cx="1649" cy="2197.94" r="5.1" fill="none" stroke-width="1.9"/>
<circle cx="1661.6" cy="2201.09" r="5.1" fill="none" stroke-width="1.9"/>
<path d="M1535.53 2107.89V2101.14H1589.56V2119.15" fill="none" stroke-width="2.3" stroke-linejoin="miter"/>
<path d="M1587.31 2162.82V2141.21H1648.1V2147.96" fill="none" stroke-width="2.3" stroke-linejoin="miter"/>
<text x="1533.28" y="2135.81" font-size="17.2" font-style="italic">p&lt;0.0001</text>
<text x="1612.98" y="2163.72" font-size="17.2" font-style="italic">p&lt;0.0001</text>
<text x="1428.37" y="2386.72" font-size="27.5" text-anchor="middle">-</text>
<text x="1480.15" y="2389.91" font-size="27.5" text-anchor="middle">+</text>
<text x="1538.69" y="2387.85" font-size="27.5" text-anchor="middle">-</text>
<text x="1593.17" y="2391.04" font-size="27.5" text-anchor="middle">+</text>
<text x="1649" y="2391.6" font-size="27.5" text-anchor="middle">+</text>
<text x="1428.37" y="2417.79" font-size="27.5" text-anchor="middle">-</text>
<text x="1480.15" y="2418.01" font-size="27.5" text-anchor="middle">-</text>
<text x="1538.69" y="2420.87" font-size="27.5" text-anchor="middle">+</text>
<text x="1593.17" y="2421.09" font-size="27.5" text-anchor="middle">+</text>
<text x="1649" y="2421.32" font-size="27.5" text-anchor="middle">+</text>
<text x="1428.37" y="2451.56" font-size="27.5" text-anchor="middle">-</text>
<text x="1480.15" y="2451.78" font-size="27.5" text-anchor="middle">-</text>
<text x="1538.69" y="2452.01" font-size="27.5" text-anchor="middle">-</text>
<text x="1593.17" y="2452.23" font-size="27.5" text-anchor="middle">-</text>
<text x="1649" y="2453.79" font-size="27.5" text-anchor="middle">+</text>
</svg></body></html>
